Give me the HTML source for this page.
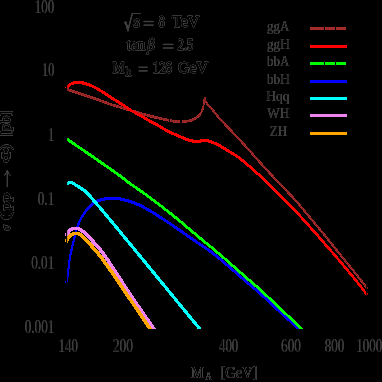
<!DOCTYPE html>
<html><head><meta charset="utf-8"><title>plot</title>
<style>
html,body{margin:0;padding:0;background:#000;width:382px;height:382px;overflow:hidden}
svg{display:block;position:absolute;left:0;top:0}
text{font-family:"Liberation Serif",serif;fill:#fff}
</style></head>
<body>
<svg width="382" height="382" viewBox="0 0 382 382">
<defs>
<filter id="tf" filterUnits="userSpaceOnUse" x="0" y="0" width="382" height="382" color-interpolation-filters="sRGB">
<feComponentTransfer><feFuncR type="table" tableValues="0.0000 0.0475 0.0900 0.1275 0.1600 0.1875 0.2100 0.2275 0.2400 0.2475 0.2500 0.2475 0.2400 0.2275 0.2100 0.1875 0.1600 0.1275 0.0900 0.0475 0.0000"/><feFuncG type="table" tableValues="0.0000 0.0475 0.0900 0.1275 0.1600 0.1875 0.2100 0.2275 0.2400 0.2475 0.2500 0.2475 0.2400 0.2275 0.2100 0.1875 0.1600 0.1275 0.0900 0.0475 0.0000"/><feFuncB type="table" tableValues="0.0000 0.0475 0.0900 0.1275 0.1600 0.1875 0.2100 0.2275 0.2400 0.2475 0.2500 0.2475 0.2400 0.2275 0.2100 0.1875 0.1600 0.1275 0.0900 0.0475 0.0000"/></feComponentTransfer>
</filter>
</defs>
<rect x="0" y="0" width="382" height="382" fill="#000"/>
<g filter="url(#tf)">
<rect x="0" y="0" width="382" height="382" fill="#000"/>
<text transform="translate(34.80,12.5) scale(0.7281,1)" font-size="17.8" font-weight="normal" stroke="#000" stroke-width="0.7">100</text>
<text transform="translate(42.10,76.2) scale(0.6819,1)" font-size="17.8" font-weight="normal" stroke="#000" stroke-width="0.7">10</text>
<text transform="translate(48.00,140.60000000000002) scale(0.7086,1)" font-size="17.8" font-weight="normal" stroke="#000" stroke-width="0.7">1</text>
<text transform="translate(37.70,204.8) scale(0.7466,1)" font-size="17.8" font-weight="normal" stroke="#000" stroke-width="0.7">0.1</text>
<text transform="translate(31.20,268.8) scale(0.7422,1)" font-size="17.8" font-weight="normal" stroke="#000" stroke-width="0.7">0.01</text>
<text transform="translate(24.70,332.8) scale(0.7397,1)" font-size="17.8" font-weight="normal" stroke="#000" stroke-width="0.7">0.001</text>
<text transform="translate(58.60,351.6) scale(0.7244,1)" font-size="17.8" font-weight="normal" stroke="#000" stroke-width="0.7">140</text>
<text transform="translate(112.80,351.6) scale(0.7617,1)" font-size="17.8" font-weight="normal" stroke="#000" stroke-width="0.7">200</text>
<text transform="translate(219.00,351.6) scale(0.7207,1)" font-size="17.8" font-weight="normal" stroke="#000" stroke-width="0.7">400</text>
<text transform="translate(281.00,351.6) scale(0.7468,1)" font-size="17.8" font-weight="normal" stroke="#000" stroke-width="0.7">600</text>
<text transform="translate(324.80,351.6) scale(0.7319,1)" font-size="17.8" font-weight="normal" stroke="#000" stroke-width="0.7">800</text>
<text transform="translate(356.30,351.6) scale(0.7261,1)" font-size="17.8" font-weight="normal" stroke="#000" stroke-width="0.7">1000</text>
<text transform="translate(267.00,30.9) scale(0.9579,1)" font-size="13.6" font-weight="normal" stroke="#000" stroke-width="0.4">ggA</text>
<text transform="translate(267.00,48.9) scale(0.9664,1)" font-size="13.6" font-weight="normal" stroke="#000" stroke-width="0.4">ggH</text>
<text transform="translate(267.00,65.9) scale(0.9579,1)" font-size="13.6" font-weight="normal" stroke="#000" stroke-width="0.4">bbA</text>
<text transform="translate(267.00,83.9) scale(0.9664,1)" font-size="13.6" font-weight="normal" stroke="#000" stroke-width="0.4">bbH</text>
<text transform="translate(266.20,100.9) scale(0.9994,1)" font-size="13.6" font-weight="normal" stroke="#000" stroke-width="0.4">Hqq</text>
<text transform="translate(267.00,117.9) scale(0.9987,1)" font-size="13.6" font-weight="normal" stroke="#000" stroke-width="0.4">WH</text>
<text transform="translate(269.70,135.9) scale(0.9616,1)" font-size="13.6" font-weight="normal" stroke="#000" stroke-width="0.4">ZH</text>
<text transform="translate(133.40,26.7) scale(0.9966,1)" font-size="16.5" font-weight="normal" stroke="#fff" stroke-width="0.7">s</text>
<text transform="translate(158.60,26.8) scale(0.7636,1)" font-size="16.5" font-weight="normal" stroke="#fff" stroke-width="0.7">8</text>
<text transform="translate(172.00,26.8) scale(0.9734,1)" font-size="16.5" font-weight="normal" stroke="#fff" stroke-width="0.7">TeV</text>
<text transform="translate(126.70,49.7) scale(0.9221,1)" font-size="16.5" font-weight="normal" stroke="#fff" stroke-width="0.7">tan</text>
<text transform="translate(147.20,49.7) scale(0.8964,1)" font-size="16.5" font-weight="normal" stroke="#fff" stroke-width="0.7"><tspan font-style="italic">β</tspan></text>
<text transform="translate(177.60,49.7) scale(0.7661,1)" font-size="16.5" font-weight="normal" stroke="#fff" stroke-width="0.7">2.5</text>
<text transform="translate(112.70,72.6) scale(0.7867,1)" font-size="16.5" font-weight="normal" stroke="#fff" stroke-width="0.7">M</text>
<text transform="translate(125.60,76.4) scale(1.0000,1)" font-size="11.5" font-weight="normal" stroke="#fff" stroke-width="0.7">h</text>
<text transform="translate(152.80,72.6) scale(0.7717,1)" font-size="16.5" font-weight="normal" stroke="#fff" stroke-width="0.7">126</text>
<text transform="translate(178.00,72.6) scale(0.9667,1)" font-size="16.5" font-weight="normal" stroke="#fff" stroke-width="0.7">GeV</text>
<text transform="translate(190.90,377.5) scale(0.8312,1)" font-size="17.5" font-weight="normal" stroke="#fff" stroke-width="0.15">M</text>
<text transform="translate(205.30,380.3) scale(0.7667,1)" font-size="12" font-weight="normal" stroke="#fff" stroke-width="0.15">A</text>
<text transform="translate(220.30,377.5) scale(0.8366,1)" font-size="17.5" font-weight="normal" stroke="#fff" stroke-width="0.15">[GeV]</text>
<path d="M124.0,23.0 L125.8,22.0 L128.0,30.0 L132.3,13.5 L140.5,13.5" fill="none" stroke="#999" stroke-width="1.1"/>
<path d="M125.6,22.2 L128.0,30.0" fill="none" stroke="#999" stroke-width="1.6"/>
<rect x="6.75" y="171.2" width="1.2" height="15.9" fill="#6c6c6c"/>
<path d="M4.0,175.4 Q6.7,174.0 7.35,170.4 Q8.0,174.0 10.7,175.4" fill="none" stroke="#8a8a8a" stroke-width="1.0"/>
<rect x="143.6" y="20.90" width="10.00" height="1.25" fill="#707070"/>
<rect x="143.6" y="24.50" width="10.00" height="1.25" fill="#707070"/>
<rect x="162.9" y="43.80" width="10.50" height="1.25" fill="#707070"/>
<rect x="162.9" y="47.40" width="10.50" height="1.25" fill="#707070"/>
<rect x="138.6" y="66.70" width="9.00" height="1.25" fill="#707070"/>
<rect x="138.6" y="70.30" width="9.00" height="1.25" fill="#707070"/>
<text transform="translate(10.0,230.57) rotate(-90) scale(0.6306,0.76)" font-size="16.7" font-weight="normal" stroke="#fff" stroke-width="0.85"><tspan font-style="italic">σ</tspan></text>
<text transform="translate(10.0,220.30) rotate(-90) scale(1.3794,0.76)" font-size="18.7" font-weight="normal" stroke="#fff" stroke-width="0.85">(</text>
<text transform="translate(10.0,210.80) rotate(-90) scale(1.0966,0.76)" font-size="16.7" font-weight="normal" stroke="#fff" stroke-width="0.85">pp</text>
<text transform="translate(10.0,162.70) rotate(-90) scale(1.2351,0.76)" font-size="16.7" font-weight="normal" stroke="#fff" stroke-width="0.85">Φ</text>
<text transform="translate(10.0,150.00) rotate(-90) scale(0.9303,0.76)" font-size="18.7" font-weight="normal" stroke="#fff" stroke-width="0.85">)</text>
<text transform="translate(10.0,136.20) rotate(-90) scale(0.8253,0.76)" font-size="18.7" font-weight="normal" stroke="#fff" stroke-width="0.85">[pb]</text>
</g>
<g shape-rendering="crispEdges">
<path d="M65.38,90.27 L65.88,90.44 L66.38,90.61 L66.88,90.77 L67.38,90.94 L67.88,91.11 L68.38,91.27 L68.88,91.44 L69.38,91.60 L69.88,91.77 L70.38,91.93 L70.88,92.10 L71.38,92.26 L71.88,92.43 L72.38,92.59 L72.88,92.76 L73.38,92.92 L73.88,93.09 L74.38,93.25 L74.88,93.41 L75.38,93.58 L75.88,93.74 L76.38,93.90 L76.88,94.07 L77.38,94.23 L77.88,94.39 L78.38,94.56 L78.88,94.72 L79.38,94.88 L79.88,95.04 L80.38,95.21 L80.88,95.37 L81.38,95.53 L81.88,95.70 L82.38,95.86 L82.88,96.03 L83.38,96.19 L83.88,96.35 L84.38,96.52 L84.88,96.68 L85.38,96.85 L85.88,97.01 L86.38,97.17 L86.88,97.34 L87.38,97.51 L87.88,97.67 L88.38,97.84 L88.88,98.00 L89.38,98.17 L89.87,98.34 L90.37,98.50 L90.87,98.67 L91.37,98.84 L91.87,99.01 L92.37,99.18 L92.87,99.35 L93.37,99.51 L93.87,99.68 L94.37,99.86 L94.86,100.03 L95.36,100.20 L95.86,100.37 L96.36,100.54 L96.86,100.72 L97.36,100.89 L97.86,101.06 L98.36,101.24 L98.86,101.41 L99.35,101.59 L99.85,101.76 L100.34,101.94 L100.84,102.12 L101.33,102.31 L101.83,102.49 L102.33,102.68 L102.83,102.87 L103.32,103.06 L103.82,103.25 L104.32,103.44 L104.82,103.63 L105.33,103.83 L105.83,104.02 L106.33,104.21 L106.84,104.40 L107.34,104.58 L107.85,104.77 L108.36,104.95 L108.86,105.13 L109.37,105.30 L109.87,105.47 L110.38,105.64 L110.88,105.81 L111.38,105.97 L111.89,106.14 L112.39,106.30 L112.89,106.46 L113.39,106.63 L113.89,106.78 L114.40,106.94 L114.90,107.10 L115.40,107.26 L115.90,107.41 L116.40,107.57 L116.91,107.72 L117.41,107.88 L117.91,108.03 L118.41,108.18 L118.91,108.33 L119.41,108.48 L119.92,108.63 L120.42,108.78 L120.92,108.93 L121.42,109.08 L121.92,109.22 L122.42,109.37 L122.92,109.52 L123.42,109.67 L123.92,109.81 L124.42,109.96 L124.92,110.10 L125.42,110.25 L125.92,110.40 L126.42,110.54 L126.92,110.69 L127.42,110.83 L127.92,110.98 L128.42,111.13 L128.92,111.27 L129.42,111.42 L129.92,111.57 L130.42,111.71 L130.92,111.86 L131.42,112.01 L131.91,112.16 L132.41,112.31 L132.91,112.46 L133.41,112.61 L133.91,112.76 L134.41,112.91 L134.91,113.06 L135.41,113.21 L135.91,113.36 L136.41,113.51 L136.91,113.66 L137.41,113.81 L137.91,113.96 L138.41,114.11 L138.91,114.26 L139.41,114.41 L139.92,114.56 L140.42,114.71 L140.92,114.86 L141.42,115.01 L141.92,115.16 L142.42,115.30 L142.92,115.45 L143.43,115.59 L143.93,115.74 L144.43,115.88 L144.93,116.03 L145.44,116.17 L145.94,116.31 L146.44,116.45 L146.94,116.59 L147.45,116.72 L147.95,116.86 L148.45,116.99 L148.96,117.13 L149.46,117.26 L149.96,117.39 L150.47,117.52 L150.97,117.65 L151.47,117.77 L151.98,117.90 L152.48,118.02 L152.98,118.14 L153.48,118.26 L153.99,118.38 L154.49,118.50 L154.99,118.62 L155.49,118.73 L155.99,118.85 L156.50,118.97 L157.00,119.08 L157.50,119.20 L158.00,119.31 L158.50,119.42 L159.00,119.54 L159.50,119.65 L160.00,119.76 L160.50,119.88 L161.00,119.99 L161.50,120.10 L162.00,120.22 L162.51,120.33 L163.01,120.44 L163.52,120.55 L164.02,120.66 L164.53,120.76 L165.04,120.86 L165.54,120.96 L166.03,121.05 L166.52,121.15 L167.02,121.26 L167.51,121.36 L168.01,121.47 L168.51,121.58 L169.01,121.69 L169.51,121.80 L170.02,121.91 L170.53,122.01 L171.04,122.12 L171.55,122.22 L172.06,122.31 L172.58,122.40 L173.10,122.48 L173.62,122.56 L174.15,122.62 L174.67,122.68 L175.20,122.72 L175.74,122.75 L176.27,122.77 L176.80,122.78 L177.30,122.78 L177.81,122.77 L178.31,122.77 L178.81,122.77 L179.32,122.76 L179.82,122.75 L180.32,122.75 L180.83,122.74 L181.33,122.73 L181.83,122.72 L182.34,122.70 L182.84,122.69 L183.34,122.68 L183.84,122.66 L184.35,122.64 L184.85,122.63 L185.35,122.61 L185.86,122.59 L186.38,122.56 L186.93,122.52 L187.47,122.46 L188.01,122.38 L188.54,122.29 L189.06,122.19 L189.58,122.08 L190.09,121.97 L190.63,121.84 L191.19,121.68 L191.74,121.49 L192.28,121.28 L192.81,121.06 L193.34,120.82 L193.87,120.56 L194.39,120.30 L194.90,120.03 L195.41,119.76 L195.94,119.46 L196.47,119.13 L197.01,118.76 L197.54,118.36 L198.06,117.94 L198.59,117.50 L199.10,117.04 L199.63,116.53 L200.15,115.97 L200.68,115.35 L201.20,114.63 L201.73,113.79 L202.24,112.79 L202.74,111.68 L203.25,110.51 L203.75,109.11 L204.25,107.02 L204.75,103.62 L205.25,100.53 L205.75,97.88 L205.85,97.39 L203.95,97.01 L203.85,97.52 L203.35,100.20 L202.85,103.32 L202.35,106.66 L201.85,108.53 L201.35,109.73 L200.86,110.82 L200.36,111.84 L199.87,112.68 L199.40,113.32 L198.92,113.87 L198.45,114.37 L197.97,114.82 L197.50,115.24 L197.01,115.64 L196.54,116.02 L196.06,116.37 L195.59,116.68 L195.13,116.97 L194.66,117.23 L194.19,117.48 L193.70,117.73 L193.21,117.98 L192.73,118.21 L192.26,118.42 L191.79,118.62 L191.32,118.80 L190.86,118.96 L190.41,119.10 L189.97,119.22 L189.51,119.32 L189.02,119.42 L188.54,119.51 L188.06,119.60 L187.59,119.67 L187.13,119.74 L186.67,119.78 L186.22,119.82 L185.74,119.84 L185.25,119.86 L184.75,119.87 L184.25,119.89 L183.76,119.91 L183.26,119.92 L182.76,119.94 L182.26,119.95 L181.77,119.96 L181.27,119.97 L180.77,119.98 L180.28,119.99 L179.78,120.00 L179.28,120.01 L178.79,120.01 L178.29,120.02 L177.79,120.02 L177.30,120.02 L176.80,120.02 L176.33,120.02 L175.86,120.00 L175.40,119.98 L174.93,119.94 L174.45,119.89 L173.98,119.84 L173.50,119.77 L173.02,119.70 L172.54,119.62 L172.05,119.53 L171.56,119.44 L171.07,119.34 L170.58,119.24 L170.09,119.14 L169.59,119.03 L169.09,118.92 L168.59,118.81 L168.09,118.70 L167.58,118.59 L167.08,118.48 L166.57,118.38 L166.06,118.28 L165.56,118.18 L165.07,118.09 L164.58,117.99 L164.08,117.88 L163.59,117.78 L163.09,117.67 L162.60,117.56 L162.10,117.45 L161.60,117.34 L161.10,117.22 L160.60,117.11 L160.10,117.00 L159.60,116.88 L159.10,116.77 L158.60,116.66 L158.10,116.54 L157.60,116.43 L157.10,116.32 L156.61,116.20 L156.11,116.09 L155.61,115.97 L155.11,115.86 L154.61,115.74 L154.12,115.62 L153.62,115.50 L153.12,115.38 L152.62,115.26 L152.13,115.14 L151.63,115.02 L151.13,114.89 L150.64,114.76 L150.14,114.64 L149.64,114.51 L149.15,114.38 L148.65,114.25 L148.15,114.11 L147.66,113.98 L147.16,113.84 L146.66,113.70 L146.16,113.57 L145.67,113.43 L145.17,113.28 L144.67,113.14 L144.17,113.00 L143.68,112.86 L143.18,112.71 L142.68,112.57 L142.18,112.42 L141.68,112.27 L141.18,112.13 L140.68,111.98 L140.19,111.83 L139.69,111.68 L139.19,111.53 L138.69,111.38 L138.19,111.23 L137.69,111.08 L137.19,110.93 L136.69,110.78 L136.19,110.63 L135.69,110.48 L135.19,110.33 L134.69,110.18 L134.19,110.03 L133.69,109.88 L133.19,109.73 L132.69,109.58 L132.18,109.43 L131.68,109.28 L131.18,109.13 L130.68,108.98 L130.18,108.83 L129.68,108.69 L129.18,108.54 L128.68,108.39 L128.18,108.25 L127.68,108.10 L127.18,107.95 L126.68,107.81 L126.18,107.66 L125.68,107.52 L125.18,107.37 L124.68,107.22 L124.18,107.08 L123.68,106.93 L123.18,106.78 L122.68,106.64 L122.18,106.49 L121.68,106.34 L121.18,106.20 L120.68,106.05 L120.19,105.90 L119.69,105.75 L119.19,105.60 L118.69,105.45 L118.19,105.30 L117.69,105.15 L117.20,104.99 L116.70,104.84 L116.20,104.69 L115.70,104.53 L115.20,104.38 L114.71,104.22 L114.21,104.06 L113.71,103.91 L113.21,103.75 L112.71,103.59 L112.22,103.42 L111.72,103.26 L111.22,103.10 L110.73,102.93 L110.23,102.76 L109.74,102.60 L109.24,102.43 L108.75,102.25 L108.26,102.08 L107.76,101.90 L107.27,101.71 L106.77,101.53 L106.27,101.34 L105.78,101.15 L105.28,100.96 L104.78,100.77 L104.28,100.57 L103.77,100.38 L103.27,100.19 L102.77,100.00 L102.27,99.81 L101.76,99.62 L101.26,99.43 L100.75,99.25 L100.25,99.07 L99.74,98.89 L99.24,98.71 L98.74,98.54 L98.24,98.36 L97.74,98.19 L97.24,98.01 L96.74,97.84 L96.24,97.67 L95.74,97.49 L95.23,97.32 L94.73,97.15 L94.23,96.98 L93.73,96.81 L93.23,96.64 L92.73,96.47 L92.23,96.30 L91.73,96.13 L91.23,95.96 L90.73,95.79 L90.22,95.63 L89.72,95.46 L89.22,95.29 L88.72,95.13 L88.22,94.96 L87.72,94.79 L87.22,94.63 L86.72,94.46 L86.22,94.30 L85.72,94.13 L85.22,93.97 L84.72,93.80 L84.22,93.64 L83.72,93.47 L83.22,93.31 L82.72,93.15 L82.22,92.98 L81.72,92.82 L81.22,92.66 L80.72,92.49 L80.22,92.33 L79.72,92.17 L79.22,92.00 L78.72,91.84 L78.22,91.68 L77.72,91.51 L77.22,91.35 L76.72,91.19 L76.22,91.02 L75.72,90.86 L75.22,90.70 L74.72,90.53 L74.22,90.37 L73.72,90.21 L73.22,90.04 L72.72,89.88 L72.22,89.72 L71.72,89.55 L71.22,89.39 L70.72,89.22 L70.22,89.06 L69.72,88.89 L69.22,88.73 L68.72,88.56 L68.22,88.39 L67.72,88.23 L67.22,88.06 L66.72,87.89 L66.22,87.73Z" fill="#a52a2a"/>
<path d="M203.95,97.34 L204.45,100.82 L204.96,102.40 L205.48,103.36 L206.00,104.13 L206.52,104.83 L207.04,105.45 L207.55,106.02 L208.06,106.54 L208.56,107.04 L209.06,107.53 L209.54,108.02 L210.03,108.55 L210.52,109.13 L211.02,109.73 L211.51,110.34 L212.01,110.96 L212.51,111.60 L213.01,112.23 L213.51,112.87 L214.01,113.50 L214.51,114.13 L215.02,114.76 L215.52,115.37 L216.02,115.98 L216.52,116.58 L217.02,117.18 L217.52,117.78 L218.02,118.37 L218.53,118.96 L219.03,119.55 L219.53,120.13 L220.03,120.71 L220.54,121.27 L221.04,121.84 L221.54,122.39 L222.04,122.94 L222.55,123.48 L223.05,124.01 L223.55,124.54 L224.05,125.07 L224.55,125.59 L225.05,126.11 L225.56,126.63 L226.06,127.15 L226.56,127.66 L227.06,128.17 L227.56,128.68 L228.06,129.20 L228.56,129.71 L229.05,130.22 L229.55,130.74 L230.05,131.26 L230.55,131.78 L231.05,132.31 L231.55,132.84 L232.05,133.37 L232.55,133.91 L233.04,134.44 L233.54,134.98 L234.04,135.52 L234.54,136.06 L235.04,136.60 L235.54,137.14 L236.04,137.68 L236.54,138.22 L237.04,138.76 L237.54,139.29 L238.05,139.83 L238.55,140.37 L239.05,140.91 L239.55,141.44 L240.05,141.98 L240.55,142.51 L241.05,143.05 L241.54,143.59 L242.04,144.12 L242.54,144.66 L243.04,145.20 L243.54,145.74 L244.04,146.28 L244.54,146.82 L245.04,147.37 L245.54,147.91 L246.04,148.46 L246.54,149.01 L247.04,149.56 L247.54,150.11 L248.03,150.66 L248.53,151.22 L249.03,151.79 L249.53,152.35 L250.03,152.92 L250.53,153.49 L251.03,154.06 L251.53,154.64 L252.03,155.21 L252.53,155.78 L253.03,156.36 L253.53,156.93 L254.03,157.50 L254.53,158.08 L255.03,158.64 L255.53,159.21 L256.04,159.77 L256.54,160.33 L257.04,160.89 L257.54,161.45 L258.04,162.00 L258.54,162.56 L259.04,163.11 L259.54,163.67 L260.04,164.22 L260.54,164.78 L261.04,165.33 L261.54,165.88 L262.04,166.43 L262.54,166.98 L263.04,167.53 L263.54,168.08 L264.04,168.63 L264.54,169.18 L265.04,169.73 L265.54,170.28 L266.04,170.82 L266.54,171.37 L267.04,171.91 L267.54,172.46 L268.04,173.00 L268.54,173.55 L269.04,174.09 L269.54,174.63 L270.04,175.17 L270.54,175.72 L271.04,176.26 L271.54,176.80 L272.04,177.34 L272.54,177.88 L273.04,178.41 L273.54,178.95 L274.05,179.49 L274.55,180.03 L275.05,180.56 L275.55,181.10 L276.05,181.64 L276.55,182.17 L277.05,182.71 L277.55,183.24 L278.05,183.77 L278.55,184.30 L279.05,184.83 L279.55,185.35 L280.05,185.87 L280.55,186.39 L281.06,186.91 L281.56,187.43 L282.06,187.94 L282.56,188.46 L283.06,188.97 L283.56,189.48 L284.06,190.00 L284.56,190.51 L285.06,191.02 L285.56,191.53 L286.06,192.05 L286.56,192.56 L287.05,193.07 L287.55,193.59 L288.05,194.11 L288.55,194.63 L289.05,195.15 L289.55,195.67 L290.05,196.19 L290.55,196.72 L291.05,197.25 L291.54,197.79 L292.04,198.32 L292.54,198.86 L293.04,199.41 L293.54,199.96 L294.04,200.51 L294.53,201.06 L295.03,201.63 L295.53,202.19 L296.03,202.76 L296.53,203.34 L297.03,203.92 L297.53,204.50 L298.02,205.09 L298.52,205.67 L299.02,206.26 L299.52,206.86 L300.02,207.45 L300.52,208.05 L301.02,208.65 L301.52,209.25 L302.02,209.84 L302.52,210.44 L303.02,211.04 L303.52,211.64 L304.02,212.24 L304.52,212.84 L305.02,213.44 L305.52,214.03 L306.02,214.63 L306.52,215.22 L307.02,215.82 L307.52,216.41 L308.02,217.01 L308.52,217.60 L309.02,218.20 L309.52,218.80 L310.02,219.39 L310.52,219.99 L311.02,220.59 L311.52,221.18 L312.02,221.78 L312.52,222.38 L313.02,222.98 L313.52,223.58 L314.02,224.18 L314.52,224.77 L315.02,225.37 L315.52,225.98 L316.02,226.58 L316.52,227.18 L317.02,227.78 L317.52,228.38 L318.02,228.98 L318.52,229.59 L319.02,230.19 L319.52,230.80 L320.02,231.40 L320.52,232.01 L321.02,232.61 L321.52,233.22 L322.02,233.83 L322.52,234.44 L323.02,235.05 L323.52,235.66 L324.02,236.27 L324.52,236.88 L325.02,237.49 L325.52,238.11 L326.02,238.72 L326.52,239.33 L327.01,239.95 L327.51,240.57 L328.01,241.19 L328.51,241.81 L329.01,242.44 L329.51,243.06 L330.01,243.69 L330.51,244.32 L331.01,244.95 L331.51,245.58 L332.01,246.20 L332.51,246.83 L333.01,247.46 L333.51,248.09 L334.01,248.72 L334.51,249.34 L335.01,249.96 L335.51,250.59 L336.01,251.21 L336.51,251.83 L337.01,252.44 L337.52,253.06 L338.02,253.68 L338.52,254.30 L339.02,254.91 L339.52,255.53 L340.02,256.15 L340.52,256.76 L341.02,257.38 L341.52,257.99 L342.02,258.60 L342.52,259.22 L343.02,259.83 L343.52,260.45 L344.02,261.06 L344.52,261.67 L345.02,262.29 L345.52,262.90 L346.02,263.51 L346.52,264.13 L347.02,264.74 L347.52,265.36 L348.02,265.97 L348.52,266.58 L349.02,267.19 L349.52,267.80 L350.02,268.41 L350.52,269.02 L351.02,269.63 L351.52,270.24 L352.02,270.85 L352.52,271.46 L353.02,272.07 L353.52,272.69 L354.01,273.30 L354.51,273.92 L355.01,274.54 L355.51,275.16 L356.01,275.78 L356.51,276.41 L357.01,277.04 L357.51,277.67 L358.01,278.31 L358.51,278.94 L359.01,279.58 L359.51,280.22 L360.01,280.86 L360.51,281.50 L361.01,282.14 L361.51,282.78 L362.01,283.42 L362.51,284.07 L363.01,284.71 L363.51,285.34 L364.01,285.98 L364.51,286.62 L365.01,287.26 L365.51,287.89 L366.01,288.52 L366.51,289.15 L366.71,289.40 L368.49,288.00 L368.29,287.74 L367.79,287.11 L367.29,286.48 L366.79,285.85 L366.29,285.22 L365.79,284.58 L365.29,283.95 L364.79,283.31 L364.29,282.67 L363.79,282.03 L363.29,281.39 L362.79,280.75 L362.29,280.11 L361.79,279.47 L361.29,278.83 L360.79,278.19 L360.29,277.55 L359.79,276.91 L359.29,276.27 L358.79,275.64 L358.29,275.00 L357.79,274.37 L357.29,273.74 L356.79,273.11 L356.29,272.49 L355.79,271.87 L355.28,271.25 L354.78,270.63 L354.28,270.02 L353.78,269.41 L353.28,268.79 L352.78,268.18 L352.28,267.57 L351.78,266.96 L351.28,266.35 L350.78,265.74 L350.28,265.14 L349.78,264.53 L349.28,263.91 L348.78,263.30 L348.28,262.69 L347.78,262.07 L347.28,261.46 L346.78,260.85 L346.28,260.23 L345.78,259.62 L345.28,259.01 L344.78,258.39 L344.28,257.78 L343.78,257.17 L343.28,256.55 L342.78,255.94 L342.28,255.32 L341.78,254.71 L341.28,254.09 L340.78,253.48 L340.28,252.86 L339.78,252.25 L339.28,251.63 L338.79,251.01 L338.29,250.39 L337.79,249.78 L337.29,249.16 L336.79,248.54 L336.29,247.92 L335.79,247.30 L335.29,246.67 L334.79,246.05 L334.29,245.42 L333.79,244.79 L333.29,244.16 L332.79,243.53 L332.29,242.91 L331.79,242.28 L331.29,241.65 L330.79,241.02 L330.29,240.39 L329.79,239.77 L329.29,239.14 L328.79,238.52 L328.28,237.90 L327.78,237.28 L327.28,236.67 L326.78,236.05 L326.28,235.44 L325.78,234.82 L325.28,234.21 L324.78,233.60 L324.28,232.99 L323.78,232.38 L323.28,231.77 L322.78,231.16 L322.28,230.56 L321.78,229.95 L321.28,229.34 L320.78,228.74 L320.28,228.13 L319.78,227.53 L319.28,226.92 L318.78,226.32 L318.28,225.72 L317.78,225.11 L317.28,224.51 L316.78,223.91 L316.28,223.31 L315.78,222.71 L315.28,222.11 L314.78,221.51 L314.28,220.91 L313.78,220.31 L313.28,219.71 L312.78,219.12 L312.28,218.52 L311.78,217.92 L311.28,217.32 L310.78,216.73 L310.28,216.13 L309.78,215.53 L309.28,214.94 L308.78,214.34 L308.28,213.75 L307.78,213.15 L307.28,212.56 L306.78,211.96 L306.28,211.37 L305.78,210.77 L305.28,210.18 L304.78,209.58 L304.28,208.98 L303.78,208.38 L303.28,207.78 L302.78,207.18 L302.28,206.58 L301.78,205.98 L301.28,205.38 L300.78,204.79 L300.28,204.19 L299.78,203.60 L299.27,203.01 L298.77,202.42 L298.27,201.84 L297.77,201.25 L297.27,200.67 L296.77,200.10 L296.27,199.53 L295.76,198.96 L295.26,198.40 L294.76,197.84 L294.26,197.29 L293.76,196.74 L293.26,196.20 L292.75,195.66 L292.25,195.12 L291.75,194.59 L291.25,194.06 L290.75,193.53 L290.25,193.00 L289.75,192.48 L289.25,191.96 L288.75,191.44 L288.24,190.92 L287.74,190.40 L287.24,189.89 L286.74,189.38 L286.24,188.86 L285.74,188.35 L285.24,187.84 L284.74,187.33 L284.24,186.81 L283.74,186.30 L283.24,185.79 L282.74,185.27 L282.25,184.76 L281.75,184.24 L281.25,183.73 L280.75,183.21 L280.25,182.69 L279.75,182.16 L279.25,181.64 L278.75,181.11 L278.25,180.57 L277.75,180.04 L277.25,179.51 L276.75,178.97 L276.25,178.43 L275.75,177.90 L275.26,177.36 L274.76,176.82 L274.26,176.29 L273.76,175.75 L273.26,175.21 L272.76,174.67 L272.26,174.13 L271.76,173.59 L271.26,173.05 L270.76,172.51 L270.26,171.97 L269.76,171.42 L269.26,170.88 L268.76,170.34 L268.26,169.79 L267.76,169.25 L267.26,168.70 L266.76,168.16 L266.26,167.61 L265.76,167.06 L265.26,166.52 L264.76,165.97 L264.26,165.42 L263.76,164.87 L263.26,164.32 L262.76,163.77 L262.26,163.22 L261.76,162.66 L261.26,162.11 L260.76,161.56 L260.26,161.01 L259.76,160.45 L259.26,159.90 L258.76,159.34 L258.26,158.78 L257.76,158.23 L257.27,157.67 L256.77,157.11 L256.27,156.55 L255.77,155.98 L255.27,155.41 L254.77,154.84 L254.27,154.27 L253.77,153.69 L253.27,153.12 L252.77,152.55 L252.27,151.97 L251.77,151.40 L251.27,150.83 L250.77,150.26 L250.27,149.69 L249.77,149.12 L249.26,148.56 L248.76,148.00 L248.26,147.44 L247.76,146.89 L247.26,146.34 L246.76,145.79 L246.26,145.25 L245.76,144.70 L245.26,144.16 L244.76,143.62 L244.26,143.08 L243.76,142.54 L243.26,142.00 L242.75,141.46 L242.25,140.92 L241.75,140.38 L241.25,139.85 L240.75,139.31 L240.25,138.78 L239.75,138.24 L239.26,137.70 L238.76,137.17 L238.26,136.63 L237.76,136.09 L237.26,135.55 L236.76,135.01 L236.26,134.47 L235.76,133.93 L235.26,133.39 L234.76,132.85 L234.25,132.31 L233.75,131.78 L233.25,131.24 L232.75,130.70 L232.25,130.17 L231.75,129.64 L231.25,129.11 L230.75,128.59 L230.24,128.07 L229.74,127.56 L229.24,127.04 L228.74,126.53 L228.24,126.01 L227.74,125.50 L227.24,124.99 L226.75,124.48 L226.25,123.96 L225.75,123.45 L225.25,122.93 L224.75,122.40 L224.25,121.88 L223.76,121.35 L223.26,120.81 L222.76,120.27 L222.26,119.73 L221.77,119.17 L221.27,118.61 L220.77,118.04 L220.27,117.47 L219.78,116.89 L219.28,116.30 L218.78,115.71 L218.28,115.11 L217.78,114.51 L217.28,113.91 L216.78,113.31 L216.29,112.71 L215.79,112.09 L215.29,111.46 L214.79,110.83 L214.29,110.19 L213.79,109.56 L213.29,108.92 L212.78,108.29 L212.28,107.67 L211.77,107.05 L211.26,106.45 L210.74,105.89 L210.24,105.37 L209.74,104.87 L209.25,104.39 L208.76,103.89 L208.28,103.37 L207.80,102.79 L207.32,102.14 L206.84,101.52 L206.35,100.42 L205.85,97.06Z" fill="#a52a2a"/>
<path d="M65.80,89.00 L66.30,89.17 L66.80,89.33 L67.30,89.50 L67.80,89.67 L68.30,89.83 L68.80,90.00 L69.30,90.16 L69.80,90.33 L70.30,90.50 L70.80,90.66 L71.30,90.83 L71.80,90.99 L72.30,91.15 L72.80,91.32 L73.30,91.48 L73.80,91.65 L74.30,91.81 L74.80,91.97 L75.30,92.14 L75.80,92.30 L76.30,92.46 L76.80,92.63 L77.30,92.79 L77.80,92.95 L78.30,93.12 L78.80,93.28 L79.30,93.44 L79.80,93.61 L80.30,93.77 L80.80,93.93 L81.30,94.10 L81.80,94.26 L82.30,94.42 L82.80,94.59 L83.30,94.75 L83.80,94.91 L84.30,95.08 L84.80,95.24 L85.30,95.41 L85.80,95.57 L86.30,95.74 L86.80,95.90 L87.30,96.07 L87.80,96.23 L88.30,96.40 L88.80,96.56 L89.30,96.73 L89.80,96.90 L90.30,97.07 L90.80,97.23 L91.30,97.40 L91.80,97.57 L92.30,97.74 L92.80,97.91 L93.30,98.08 L93.80,98.25 L94.30,98.42 L94.80,98.59 L95.30,98.76 L95.80,98.93 L96.30,99.10 L96.80,99.28 L97.30,99.45 L97.80,99.63 L98.30,99.80 L98.80,99.98 L99.30,100.15 L99.80,100.33 L100.30,100.51 L100.80,100.69 L101.30,100.87 L101.80,101.06 L102.30,101.25 L102.80,101.43 L103.30,101.63 L103.80,101.82 L104.30,102.01 L104.80,102.20 L105.30,102.39 L105.80,102.58 L106.30,102.77 L106.80,102.96 L107.30,103.15 L107.80,103.33 L108.30,103.51 L108.80,103.69 L109.30,103.86 L109.80,104.03 L110.30,104.20 L110.80,104.37 L111.30,104.53 L111.80,104.70 L112.30,104.86 L112.80,105.02 L113.30,105.18 L113.80,105.34 L114.30,105.50 L114.80,105.66 L115.30,105.82 L115.80,105.97 L116.30,106.13 L116.80,106.28 L117.30,106.43 L117.80,106.59 L118.30,106.74 L118.80,106.89 L119.30,107.04 L119.80,107.19 L120.30,107.34 L120.80,107.49 L121.30,107.64 L121.80,107.78 L122.30,107.93 L122.80,108.08 L123.30,108.22 L123.80,108.37 L124.30,108.52 L124.80,108.66 L125.30,108.81 L125.80,108.96 L126.30,109.10 L126.80,109.25 L127.30,109.39 L127.80,109.54 L128.30,109.69 L128.80,109.83 L129.30,109.98 L129.80,110.13 L130.30,110.27 L130.80,110.42 L131.30,110.57 L131.80,110.72 L132.30,110.87 L132.80,111.02 L133.30,111.17 L133.80,111.32 L134.30,111.47 L134.80,111.62 L135.30,111.77 L135.80,111.92 L136.30,112.07 L136.80,112.22 L137.30,112.37 L137.80,112.52 L138.30,112.67 L138.80,112.82 L139.30,112.97 L139.80,113.12 L140.30,113.27 L140.80,113.42 L141.30,113.57 L141.80,113.71 L142.30,113.86 L142.80,114.01 L143.30,114.15 L143.80,114.30 L144.30,114.44 L144.80,114.58 L145.30,114.73 L145.80,114.87 L146.30,115.01 L146.80,115.14 L147.30,115.28 L147.80,115.42 L148.30,115.55 L148.80,115.69 L149.30,115.82 L149.80,115.95 L150.30,116.08 L150.80,116.20 L151.30,116.33 L151.80,116.46 L152.30,116.58 L152.80,116.70 L153.30,116.82 L153.80,116.94 L154.30,117.06 L154.80,117.18 L155.30,117.29 L155.80,117.41 L156.30,117.53 L156.80,117.64 L157.30,117.76 L157.80,117.87 L158.30,117.98 L158.80,118.10 L159.30,118.21 L159.80,118.32 L160.30,118.44 L160.80,118.55 L161.30,118.66 L161.80,118.78 L162.30,118.89 L162.80,119.00 L163.30,119.11 L163.80,119.22 L164.30,119.32 L164.80,119.42 L165.30,119.52 L165.80,119.62 L166.30,119.72 L166.80,119.82 L167.30,119.92 L167.80,120.03 L168.30,120.14 L168.80,120.25 L169.30,120.36 L169.80,120.47 L170.30,120.58 L170.80,120.68 L171.30,120.78 L171.80,120.88 L172.30,120.97 L172.80,121.05 L173.30,121.13 L173.80,121.20 L174.30,121.26 L174.80,121.31 L175.30,121.35 L175.80,121.38 L176.30,121.40 L176.80,121.40 L177.30,121.40 L177.80,121.40 L178.30,121.39 L178.80,121.39 L179.30,121.38 L179.80,121.38 L180.30,121.37 L180.80,121.36 L181.30,121.35 L181.80,121.34 L182.30,121.33 L182.80,121.31 L183.30,121.30 L183.80,121.28 L184.30,121.27 L184.80,121.25 L185.30,121.23 L185.80,121.21 L186.30,121.19 L186.80,121.15 L187.30,121.10 L187.80,121.03 L188.30,120.94 L188.80,120.85 L189.30,120.75 L189.80,120.64 L190.30,120.53 L190.80,120.39 L191.30,120.23 L191.80,120.04 L192.30,119.84 L192.80,119.62 L193.30,119.39 L193.80,119.14 L194.30,118.88 L194.80,118.62 L195.30,118.34 L195.80,118.05 L196.30,117.72 L196.80,117.37 L197.30,116.98 L197.80,116.57 L198.30,116.14 L198.80,115.68 L199.30,115.17 L199.80,114.61 L200.30,113.98 L200.80,113.24 L201.30,112.31 L201.80,111.25 L202.30,110.12 L202.80,108.82 L203.30,106.84 L203.80,103.47 L204.30,100.36 L204.80,97.70 L204.90,97.20 L205.40,100.62 L205.90,101.96 L206.40,102.75 L206.90,103.46 L207.40,104.10 L207.90,104.67 L208.40,105.20 L208.90,105.71 L209.40,106.20 L209.90,106.71 L210.40,107.23 L210.90,107.80 L211.40,108.40 L211.90,109.01 L212.40,109.63 L212.90,110.26 L213.40,110.89 L213.90,111.53 L214.40,112.16 L214.90,112.79 L215.40,113.42 L215.90,114.04 L216.40,114.64 L216.90,115.24 L217.40,115.85 L217.90,116.44 L218.40,117.04 L218.90,117.63 L219.40,118.22 L219.90,118.80 L220.40,119.37 L220.90,119.94 L221.40,120.50 L221.90,121.05 L222.40,121.60 L222.90,122.14 L223.40,122.68 L223.90,123.21 L224.40,123.74 L224.90,124.26 L225.40,124.78 L225.90,125.30 L226.40,125.81 L226.90,126.32 L227.40,126.84 L227.90,127.35 L228.40,127.86 L228.90,128.38 L229.40,128.89 L229.90,129.41 L230.40,129.93 L230.90,130.45 L231.40,130.98 L231.90,131.51 L232.40,132.04 L232.90,132.57 L233.40,133.11 L233.90,133.65 L234.40,134.19 L234.90,134.73 L235.40,135.26 L235.90,135.80 L236.40,136.34 L236.90,136.88 L237.40,137.42 L237.90,137.96 L238.40,138.50 L238.90,139.04 L239.40,139.57 L239.90,140.11 L240.40,140.65 L240.90,141.18 L241.40,141.72 L241.90,142.25 L242.40,142.79 L242.90,143.33 L243.40,143.87 L243.90,144.41 L244.40,144.95 L244.90,145.49 L245.40,146.03 L245.90,146.58 L246.40,147.13 L246.90,147.68 L247.40,148.23 L247.90,148.78 L248.40,149.33 L248.90,149.89 L249.40,150.46 L249.90,151.02 L250.40,151.59 L250.90,152.16 L251.40,152.73 L251.90,153.30 L252.40,153.88 L252.90,154.45 L253.40,155.03 L253.90,155.60 L254.40,156.17 L254.90,156.74 L255.40,157.31 L255.90,157.88 L256.40,158.44 L256.90,159.00 L257.40,159.56 L257.90,160.11 L258.40,160.67 L258.90,161.23 L259.40,161.78 L259.90,162.34 L260.40,162.89 L260.90,163.44 L261.40,164.00 L261.90,164.55 L262.40,165.10 L262.90,165.65 L263.40,166.20 L263.90,166.75 L264.40,167.30 L264.90,167.85 L265.40,168.40 L265.90,168.94 L266.40,169.49 L266.90,170.04 L267.40,170.58 L267.90,171.13 L268.40,171.67 L268.90,172.21 L269.40,172.76 L269.90,173.30 L270.40,173.84 L270.90,174.38 L271.40,174.92 L271.90,175.46 L272.40,176.00 L272.90,176.54 L273.40,177.08 L273.90,177.62 L274.40,178.16 L274.90,178.69 L275.40,179.23 L275.90,179.77 L276.40,180.30 L276.90,180.84 L277.40,181.37 L277.90,181.91 L278.40,182.44 L278.90,182.97 L279.40,183.49 L279.90,184.02 L280.40,184.54 L280.90,185.06 L281.40,185.58 L281.90,186.09 L282.40,186.61 L282.90,187.12 L283.40,187.64 L283.90,188.15 L284.40,188.66 L284.90,189.17 L285.40,189.69 L285.90,190.20 L286.40,190.71 L286.90,191.23 L287.40,191.74 L287.90,192.26 L288.40,192.77 L288.90,193.29 L289.40,193.81 L289.90,194.34 L290.40,194.86 L290.90,195.39 L291.40,195.92 L291.90,196.45 L292.40,196.99 L292.90,197.53 L293.40,198.08 L293.90,198.63 L294.40,199.18 L294.90,199.73 L295.40,200.30 L295.90,200.86 L296.40,201.43 L296.90,202.01 L297.40,202.59 L297.90,203.17 L298.40,203.75 L298.90,204.34 L299.40,204.93 L299.90,205.53 L300.40,206.12 L300.90,206.72 L301.40,207.31 L301.90,207.91 L302.40,208.51 L302.90,209.11 L303.40,209.71 L303.90,210.31 L304.40,210.91 L304.90,211.51 L305.40,212.10 L305.90,212.70 L306.40,213.29 L306.90,213.89 L307.40,214.48 L307.90,215.08 L308.40,215.68 L308.90,216.27 L309.40,216.87 L309.90,217.46 L310.40,218.06 L310.90,218.66 L311.40,219.25 L311.90,219.85 L312.40,220.45 L312.90,221.05 L313.40,221.64 L313.90,222.24 L314.40,222.84 L314.90,223.44 L315.40,224.04 L315.90,224.64 L316.40,225.24 L316.90,225.84 L317.40,226.45 L317.90,227.05 L318.40,227.65 L318.90,228.26 L319.40,228.86 L319.90,229.46 L320.40,230.07 L320.90,230.68 L321.40,231.28 L321.90,231.89 L322.40,232.50 L322.90,233.11 L323.40,233.71 L323.90,234.32 L324.40,234.94 L324.90,235.55 L325.40,236.16 L325.90,236.77 L326.40,237.39 L326.90,238.00 L327.40,238.62 L327.90,239.23 L328.40,239.86 L328.90,240.48 L329.40,241.10 L329.90,241.73 L330.40,242.36 L330.90,242.98 L331.40,243.61 L331.90,244.24 L332.40,244.87 L332.90,245.50 L333.40,246.13 L333.90,246.75 L334.40,247.38 L334.90,248.01 L335.40,248.63 L335.90,249.25 L336.40,249.87 L336.90,250.49 L337.40,251.11 L337.90,251.73 L338.40,252.35 L338.90,252.96 L339.40,253.58 L339.90,254.20 L340.40,254.81 L340.90,255.43 L341.40,256.04 L341.90,256.66 L342.40,257.27 L342.90,257.89 L343.40,258.50 L343.90,259.11 L344.40,259.73 L344.90,260.34 L345.40,260.95 L345.90,261.57 L346.40,262.18 L346.90,262.79 L347.40,263.41 L347.90,264.02 L348.40,264.64 L348.90,265.25 L349.40,265.86 L349.90,266.47 L350.40,267.08 L350.90,267.69 L351.40,268.30 L351.90,268.91 L352.40,269.52 L352.90,270.13 L353.40,270.74 L353.90,271.35 L354.40,271.97 L354.90,272.59 L355.40,273.20 L355.90,273.83 L356.40,274.45 L356.90,275.08 L357.40,275.71 L357.90,276.34 L358.40,276.97 L358.90,277.61 L359.40,278.25 L359.90,278.88 L360.40,279.52 L360.90,280.16 L361.40,280.81 L361.90,281.45 L362.40,282.09 L362.90,282.73 L363.40,283.37 L363.90,284.01 L364.40,284.65 L364.90,285.28 L365.40,285.92 L365.90,286.55 L366.40,287.19 L366.90,287.82 L367.40,288.45 L367.60,288.70" fill="none" stroke="#000" stroke-opacity="0.4" stroke-width="1.1" stroke-dasharray="1 1.9" shape-rendering="auto"/>
<rect x="168.8" y="115" width="1.50" height="9" fill="#000"/>
<rect x="179.9" y="115" width="1.60" height="9" fill="#000"/>
<path d="M66.77,89.18 L67.26,88.69 L67.75,88.24 L68.23,87.82 L68.72,87.41 L69.21,86.99 L69.70,86.59 L70.17,86.24 L70.62,85.94 L71.06,85.70 L71.50,85.48 L71.97,85.26 L72.44,85.05 L72.89,84.86 L73.33,84.71 L73.75,84.59 L74.16,84.49 L74.61,84.41 L75.09,84.32 L75.55,84.24 L76.00,84.18 L76.43,84.13 L76.85,84.11 L77.29,84.11 L77.76,84.12 L78.24,84.14 L78.72,84.16 L79.20,84.19 L79.69,84.22 L80.18,84.25 L80.67,84.29 L81.14,84.33 L81.58,84.38 L82.04,84.44 L82.50,84.52 L82.96,84.61 L83.44,84.72 L83.91,84.83 L84.40,84.95 L84.89,85.08 L85.38,85.22 L85.87,85.35 L86.34,85.48 L86.81,85.62 L87.29,85.78 L87.76,85.94 L88.24,86.12 L88.72,86.30 L89.20,86.50 L89.69,86.70 L90.18,86.91 L90.67,87.12 L91.16,87.35 L91.65,87.57 L92.14,87.81 L92.64,88.04 L93.14,88.28 L93.63,88.51 L94.11,88.75 L94.59,88.99 L95.08,89.25 L95.56,89.52 L96.05,89.79 L96.54,90.07 L97.04,90.36 L97.53,90.65 L98.03,90.95 L98.52,91.25 L99.02,91.56 L99.52,91.87 L100.02,92.18 L100.52,92.49 L101.02,92.80 L101.52,93.11 L102.01,93.41 L102.50,93.72 L103.00,94.04 L103.50,94.36 L103.99,94.68 L104.49,95.01 L104.99,95.34 L105.49,95.66 L105.99,96.00 L106.49,96.33 L106.99,96.66 L107.50,96.99 L108.00,97.31 L108.50,97.64 L109.01,97.96 L109.51,98.28 L110.01,98.59 L110.51,98.91 L111.01,99.23 L111.51,99.54 L112.01,99.86 L112.51,100.17 L113.02,100.48 L113.52,100.80 L114.02,101.11 L114.52,101.42 L115.02,101.73 L115.52,102.04 L116.02,102.36 L116.51,102.67 L117.01,102.98 L117.51,103.29 L118.01,103.60 L118.51,103.92 L119.01,104.23 L119.51,104.55 L120.01,104.86 L120.50,105.18 L121.00,105.50 L121.50,105.82 L122.00,106.14 L122.49,106.46 L122.99,106.78 L123.48,107.11 L123.98,107.44 L124.47,107.78 L124.97,108.12 L125.47,108.47 L125.97,108.81 L126.48,109.15 L126.98,109.50 L127.48,109.84 L127.99,110.18 L128.49,110.52 L129.00,110.85 L129.51,111.18 L130.02,111.50 L130.54,111.82 L131.05,112.13 L131.56,112.43 L132.07,112.72 L132.58,113.00 L133.09,113.27 L133.60,113.54 L134.10,113.81 L134.60,114.07 L135.11,114.33 L135.61,114.59 L136.10,114.85 L136.60,115.10 L137.09,115.36 L137.59,115.62 L138.08,115.88 L138.57,116.15 L139.06,116.42 L139.55,116.70 L140.05,116.98 L140.54,117.27 L141.04,117.56 L141.53,117.85 L142.03,118.15 L142.53,118.45 L143.03,118.76 L143.52,119.06 L144.02,119.37 L144.52,119.67 L145.03,119.98 L145.53,120.29 L146.03,120.59 L146.53,120.90 L147.04,121.20 L147.54,121.50 L148.05,121.80 L148.55,122.10 L149.06,122.39 L149.57,122.68 L150.07,122.96 L150.58,123.24 L151.09,123.52 L151.59,123.79 L152.09,124.06 L152.60,124.32 L153.10,124.59 L153.60,124.85 L154.10,125.11 L154.60,125.37 L155.10,125.63 L155.60,125.89 L156.09,126.15 L156.59,126.41 L157.08,126.68 L157.58,126.94 L158.07,127.21 L158.56,127.48 L159.05,127.76 L159.54,128.03 L160.03,128.32 L160.52,128.62 L161.02,128.92 L161.51,129.23 L162.02,129.55 L162.52,129.86 L163.03,130.18 L163.54,130.49 L164.05,130.80 L164.57,131.10 L165.09,131.39 L165.60,131.66 L166.11,131.92 L166.61,132.18 L167.12,132.44 L167.62,132.70 L168.13,132.95 L168.64,133.19 L169.14,133.44 L169.65,133.68 L170.15,133.92 L170.66,134.16 L171.16,134.39 L171.66,134.62 L172.17,134.85 L172.67,135.08 L173.17,135.31 L173.68,135.53 L174.18,135.75 L174.68,135.98 L175.18,136.20 L175.69,136.41 L176.19,136.63 L176.69,136.85 L177.19,137.07 L177.69,137.28 L178.19,137.50 L178.69,137.71 L179.19,137.93 L179.69,138.14 L180.19,138.36 L180.69,138.57 L181.19,138.79 L181.69,139.00 L182.19,139.22 L182.70,139.44 L183.21,139.66 L183.73,139.87 L184.24,140.07 L184.75,140.27 L185.26,140.46 L185.76,140.65 L186.27,140.84 L186.78,141.02 L187.29,141.20 L187.81,141.38 L188.33,141.55 L188.85,141.71 L189.38,141.87 L189.88,142.01 L190.39,142.14 L190.90,142.28 L191.41,142.42 L191.94,142.55 L192.49,142.68 L193.04,142.78 L193.60,142.87 L194.13,142.93 L194.64,142.98 L195.17,143.03 L195.70,143.07 L196.24,143.10 L196.80,143.11 L197.36,143.10 L197.92,143.07 L198.46,143.02 L198.99,142.95 L199.51,142.89 L200.03,142.81 L200.61,142.71 L201.20,142.56 L201.73,142.40 L202.19,142.28 L202.59,142.20 L203.02,142.15 L203.49,142.09 L203.94,142.04 L204.36,142.02 L204.77,142.01 L205.20,142.03 L205.65,142.06 L206.12,142.11 L206.59,142.17 L207.03,142.22 L207.44,142.29 L207.87,142.39 L208.32,142.52 L208.78,142.67 L209.26,142.84 L209.75,143.03 L210.26,143.22 L210.77,143.40 L211.26,143.58 L211.74,143.76 L212.23,143.94 L212.71,144.14 L213.20,144.33 L213.69,144.54 L214.18,144.75 L214.67,144.96 L215.16,145.18 L215.65,145.41 L216.14,145.64 L216.63,145.87 L217.12,146.11 L217.60,146.35 L218.09,146.60 L218.57,146.86 L219.06,147.12 L219.55,147.40 L220.04,147.68 L220.54,147.97 L221.03,148.27 L221.53,148.57 L222.03,148.87 L222.53,149.17 L223.03,149.48 L223.54,149.78 L224.03,150.08 L224.53,150.37 L225.02,150.67 L225.52,150.98 L226.02,151.28 L226.52,151.59 L227.02,151.90 L227.52,152.21 L228.02,152.52 L228.52,152.83 L229.02,153.15 L229.52,153.46 L230.03,153.77 L230.53,154.08 L231.04,154.38 L231.55,154.68 L232.05,154.97 L232.54,155.26 L233.04,155.55 L233.53,155.84 L234.01,156.14 L234.50,156.44 L234.98,156.75 L235.47,157.08 L235.96,157.42 L236.46,157.76 L236.95,158.11 L237.45,158.46 L237.94,158.82 L238.44,159.19 L238.93,159.56 L239.43,159.93 L239.92,160.31 L240.42,160.69 L240.91,161.08 L241.41,161.47 L241.91,161.87 L242.40,162.27 L242.90,162.67 L243.40,163.08 L243.89,163.49 L244.39,163.90 L244.89,164.32 L245.39,164.73 L245.88,165.16 L246.38,165.58 L246.88,166.01 L247.38,166.44 L247.88,166.87 L248.38,167.30 L248.87,167.74 L249.37,168.18 L249.87,168.61 L250.37,169.06 L250.87,169.50 L251.37,169.94 L251.87,170.38 L252.37,170.83 L252.87,171.27 L253.37,171.72 L253.87,172.17 L254.37,172.61 L254.87,173.06 L255.37,173.51 L255.87,173.95 L256.37,174.40 L256.86,174.84 L257.36,175.29 L257.86,175.74 L258.36,176.20 L258.86,176.66 L259.35,177.12 L259.85,177.58 L260.35,178.04 L260.85,178.51 L261.35,178.98 L261.85,179.45 L262.35,179.92 L262.84,180.40 L263.34,180.87 L263.84,181.35 L264.34,181.83 L264.84,182.31 L265.34,182.80 L265.84,183.28 L266.34,183.77 L266.84,184.26 L267.34,184.75 L267.84,185.24 L268.34,185.73 L268.83,186.22 L269.33,186.72 L269.83,187.21 L270.33,187.71 L270.83,188.20 L271.33,188.70 L271.83,189.19 L272.33,189.69 L272.83,190.19 L273.33,190.69 L273.83,191.19 L274.33,191.68 L274.83,192.18 L275.33,192.68 L275.83,193.18 L276.33,193.68 L276.83,194.17 L277.33,194.67 L277.83,195.17 L278.33,195.67 L278.83,196.17 L279.33,196.67 L279.83,197.18 L280.33,197.68 L280.83,198.19 L281.33,198.70 L281.82,199.21 L282.32,199.72 L282.83,200.23 L283.33,200.74 L283.83,201.25 L284.33,201.76 L284.83,202.27 L285.33,202.78 L285.83,203.29 L286.33,203.80 L286.83,204.31 L287.33,204.81 L287.83,205.32 L288.33,205.83 L288.83,206.34 L289.33,206.85 L289.82,207.36 L290.32,207.87 L290.82,208.38 L291.32,208.89 L291.82,209.40 L292.32,209.92 L292.82,210.43 L293.32,210.94 L293.82,211.46 L294.32,211.97 L294.82,212.48 L295.32,213.00 L295.82,213.51 L296.32,214.02 L296.82,214.53 L297.32,215.05 L297.82,215.56 L298.31,216.08 L298.81,216.61 L299.31,217.14 L299.81,217.68 L300.30,218.22 L300.80,218.77 L301.30,219.33 L301.80,219.89 L302.30,220.45 L302.80,221.02 L303.30,221.58 L303.80,222.15 L304.30,222.72 L304.80,223.28 L305.30,223.84 L305.80,224.40 L306.30,224.96 L306.80,225.51 L307.30,226.07 L307.80,226.62 L308.30,227.17 L308.80,227.73 L309.30,228.28 L309.80,228.83 L310.30,229.38 L310.80,229.93 L311.30,230.48 L311.80,231.03 L312.30,231.59 L312.80,232.14 L313.30,232.69 L313.80,233.24 L314.30,233.80 L314.80,234.35 L315.30,234.91 L315.80,235.47 L316.30,236.03 L316.80,236.59 L317.30,237.15 L317.80,237.71 L318.30,238.28 L318.79,238.85 L319.29,239.42 L319.79,239.99 L320.29,240.57 L320.79,241.16 L321.29,241.74 L321.79,242.34 L322.29,242.93 L322.79,243.52 L323.29,244.12 L323.79,244.71 L324.29,245.31 L324.79,245.90 L325.29,246.48 L325.80,247.07 L326.30,247.64 L326.80,248.21 L327.30,248.77 L327.80,249.32 L328.30,249.87 L328.80,250.42 L329.30,250.97 L329.80,251.54 L330.30,252.10 L330.80,252.67 L331.29,253.24 L331.79,253.82 L332.29,254.39 L332.79,254.97 L333.29,255.54 L333.79,256.12 L334.29,256.70 L334.79,257.28 L335.29,257.86 L335.79,258.44 L336.29,259.03 L336.79,259.61 L337.29,260.20 L337.79,260.78 L338.29,261.37 L338.79,261.96 L339.29,262.55 L339.79,263.14 L340.29,263.73 L340.79,264.32 L341.29,264.91 L341.79,265.50 L342.29,266.10 L342.79,266.69 L343.29,267.28 L343.79,267.88 L344.28,268.48 L344.78,269.07 L345.28,269.67 L345.78,270.27 L346.28,270.87 L346.78,271.48 L347.28,272.08 L347.78,272.69 L348.28,273.29 L348.78,273.90 L349.28,274.50 L349.78,275.11 L350.28,275.72 L350.78,276.32 L351.28,276.93 L351.78,277.54 L352.28,278.15 L352.78,278.75 L353.28,279.36 L353.78,279.97 L354.28,280.58 L354.78,281.19 L355.28,281.81 L355.78,282.43 L356.28,283.04 L356.77,283.67 L357.27,284.29 L357.77,284.92 L358.27,285.56 L358.77,286.20 L359.27,286.84 L359.77,287.48 L360.27,288.12 L360.77,288.77 L361.27,289.41 L361.77,290.06 L362.27,290.70 L362.77,291.34 L363.27,291.98 L363.77,292.62 L364.28,293.25 L364.78,293.88 L365.28,294.50 L365.78,295.12 L366.28,295.72 L366.38,295.84 L368.42,294.16 L368.32,294.04 L367.82,293.44 L367.32,292.84 L366.82,292.23 L366.32,291.61 L365.83,290.99 L365.33,290.36 L364.83,289.73 L364.33,289.09 L363.83,288.45 L363.33,287.81 L362.83,287.17 L362.33,286.53 L361.83,285.88 L361.33,285.24 L360.83,284.59 L360.33,283.95 L359.83,283.31 L359.33,282.67 L358.83,282.04 L358.32,281.40 L357.82,280.78 L357.32,280.16 L356.82,279.54 L356.32,278.92 L355.82,278.31 L355.32,277.69 L354.82,277.08 L354.32,276.47 L353.82,275.86 L353.32,275.26 L352.82,274.65 L352.32,274.04 L351.82,273.43 L351.32,272.83 L350.82,272.22 L350.32,271.61 L349.82,271.00 L349.32,270.40 L348.82,269.79 L348.32,269.19 L347.82,268.58 L347.32,267.98 L346.82,267.38 L346.32,266.78 L345.81,266.18 L345.31,265.58 L344.81,264.98 L344.31,264.39 L343.81,263.80 L343.31,263.20 L342.81,262.61 L342.31,262.02 L341.81,261.43 L341.31,260.83 L340.81,260.24 L340.31,259.65 L339.81,259.06 L339.31,258.48 L338.81,257.89 L338.31,257.30 L337.81,256.72 L337.31,256.13 L336.81,255.55 L336.31,254.96 L335.81,254.38 L335.31,253.80 L334.81,253.22 L334.31,252.64 L333.81,252.07 L333.31,251.49 L332.80,250.92 L332.30,250.34 L331.80,249.77 L331.30,249.20 L330.80,248.63 L330.30,248.07 L329.80,247.52 L329.30,246.96 L328.80,246.42 L328.30,245.86 L327.80,245.31 L327.31,244.74 L326.81,244.17 L326.31,243.58 L325.81,243.00 L325.31,242.41 L324.81,241.82 L324.31,241.22 L323.81,240.63 L323.31,240.03 L322.81,239.44 L322.31,238.85 L321.81,238.26 L321.31,237.67 L320.81,237.09 L320.30,236.52 L319.80,235.95 L319.30,235.38 L318.80,234.81 L318.30,234.25 L317.80,233.68 L317.30,233.12 L316.80,232.56 L316.30,232.00 L315.80,231.45 L315.30,230.89 L314.80,230.34 L314.30,229.78 L313.80,229.23 L313.30,228.68 L312.80,228.13 L312.30,227.57 L311.80,227.02 L311.30,226.47 L310.80,225.92 L310.30,225.37 L309.80,224.82 L309.30,224.27 L308.80,223.71 L308.30,223.16 L307.80,222.61 L307.30,222.05 L306.80,221.49 L306.30,220.94 L305.80,220.38 L305.30,219.81 L304.80,219.25 L304.30,218.68 L303.80,218.11 L303.30,217.55 L302.80,216.98 L302.30,216.42 L301.79,215.86 L301.29,215.31 L300.79,214.76 L300.29,214.22 L299.78,213.69 L299.28,213.16 L298.78,212.64 L298.28,212.12 L297.78,211.60 L297.28,211.09 L296.78,210.58 L296.28,210.07 L295.78,209.56 L295.28,209.04 L294.78,208.53 L294.28,208.01 L293.78,207.50 L293.28,206.99 L292.78,206.47 L292.28,205.96 L291.78,205.45 L291.27,204.94 L290.77,204.43 L290.27,203.92 L289.77,203.41 L289.27,202.90 L288.77,202.39 L288.27,201.88 L287.77,201.37 L287.27,200.86 L286.77,200.36 L286.27,199.85 L285.77,199.34 L285.27,198.83 L284.77,198.32 L284.28,197.81 L283.78,197.30 L283.27,196.79 L282.77,196.28 L282.27,195.77 L281.77,195.26 L281.27,194.75 L280.77,194.24 L280.27,193.74 L279.77,193.23 L279.27,192.73 L278.77,192.23 L278.27,191.73 L277.77,191.23 L277.27,190.74 L276.77,190.24 L276.27,189.74 L275.77,189.24 L275.27,188.74 L274.77,188.25 L274.27,187.75 L273.77,187.25 L273.27,186.75 L272.77,186.25 L272.27,185.76 L271.77,185.26 L271.27,184.76 L270.77,184.27 L270.26,183.77 L269.76,183.28 L269.26,182.79 L268.76,182.29 L268.26,181.80 L267.76,181.31 L267.26,180.82 L266.76,180.34 L266.26,179.85 L265.76,179.36 L265.26,178.88 L264.76,178.40 L264.25,177.92 L263.75,177.44 L263.25,176.96 L262.75,176.49 L262.25,176.02 L261.75,175.55 L261.25,175.08 L260.74,174.61 L260.24,174.15 L259.74,173.69 L259.24,173.23 L258.74,172.77 L258.23,172.32 L257.73,171.87 L257.23,171.42 L256.73,170.97 L256.23,170.53 L255.73,170.08 L255.23,169.63 L254.73,169.19 L254.23,168.74 L253.73,168.29 L253.23,167.85 L252.73,167.40 L252.23,166.96 L251.73,166.51 L251.23,166.07 L250.73,165.63 L250.22,165.19 L249.72,164.75 L249.22,164.31 L248.72,163.88 L248.22,163.44 L247.72,163.01 L247.21,162.58 L246.71,162.15 L246.21,161.73 L245.71,161.31 L245.20,160.89 L244.70,160.47 L244.20,160.06 L243.69,159.65 L243.19,159.24 L242.69,158.84 L242.18,158.44 L241.68,158.04 L241.17,157.65 L240.67,157.26 L240.16,156.88 L239.66,156.50 L239.15,156.12 L238.65,155.75 L238.14,155.39 L237.64,155.03 L237.13,154.67 L236.62,154.32 L236.10,153.97 L235.59,153.63 L235.07,153.31 L234.56,152.99 L234.06,152.69 L233.55,152.39 L233.05,152.10 L232.56,151.81 L232.07,151.52 L231.57,151.23 L231.08,150.93 L230.58,150.62 L230.08,150.32 L229.58,150.01 L229.08,149.69 L228.58,149.38 L228.08,149.07 L227.58,148.76 L227.08,148.45 L226.58,148.14 L226.07,147.83 L225.57,147.52 L225.06,147.22 L224.57,146.92 L224.07,146.63 L223.57,146.32 L223.07,146.02 L222.57,145.72 L222.06,145.41 L221.56,145.11 L221.05,144.81 L220.54,144.51 L220.03,144.22 L219.51,143.94 L219.00,143.66 L218.48,143.39 L217.97,143.13 L217.46,142.89 L216.95,142.64 L216.44,142.40 L215.93,142.17 L215.42,141.94 L214.91,141.71 L214.40,141.49 L213.89,141.27 L213.37,141.06 L212.86,140.86 L212.34,140.66 L211.83,140.47 L211.34,140.29 L210.85,140.11 L210.34,139.92 L209.82,139.72 L209.28,139.53 L208.73,139.36 L208.16,139.20 L207.57,139.07 L207.01,138.98 L206.48,138.92 L205.95,138.86 L205.40,138.82 L204.83,138.79 L204.24,138.80 L203.66,138.84 L203.11,138.90 L202.58,138.97 L202.01,139.06 L201.41,139.21 L200.87,139.37 L200.40,139.50 L199.99,139.58 L199.57,139.64 L199.09,139.70 L198.61,139.76 L198.14,139.82 L197.68,139.85 L197.24,139.88 L196.80,139.89 L196.36,139.88 L195.90,139.86 L195.43,139.82 L194.96,139.78 L194.47,139.73 L194.00,139.68 L193.56,139.62 L193.11,139.55 L192.66,139.45 L192.19,139.34 L191.70,139.22 L191.21,139.09 L190.72,138.96 L190.22,138.82 L189.75,138.69 L189.27,138.55 L188.79,138.40 L188.31,138.24 L187.82,138.07 L187.33,137.90 L186.84,137.72 L186.34,137.54 L185.85,137.36 L185.36,137.17 L184.87,136.99 L184.39,136.80 L183.90,136.59 L183.41,136.39 L182.91,136.18 L182.41,135.96 L181.91,135.74 L181.41,135.53 L180.91,135.31 L180.41,135.09 L179.91,134.88 L179.41,134.67 L178.91,134.45 L178.41,134.24 L177.91,134.02 L177.41,133.81 L176.91,133.59 L176.42,133.37 L175.92,133.16 L175.42,132.94 L174.92,132.72 L174.43,132.50 L173.93,132.28 L173.43,132.06 L172.94,131.83 L172.44,131.61 L171.94,131.38 L171.45,131.15 L170.95,130.92 L170.46,130.68 L169.96,130.45 L169.47,130.21 L168.98,129.97 L168.48,129.72 L167.99,129.48 L167.49,129.23 L167.00,128.97 L166.51,128.72 L166.03,128.47 L165.55,128.20 L165.06,127.93 L164.57,127.64 L164.08,127.34 L163.58,127.03 L163.09,126.72 L162.58,126.41 L162.08,126.09 L161.57,125.78 L161.06,125.46 L160.55,125.16 L160.04,124.87 L159.53,124.58 L159.02,124.30 L158.52,124.02 L158.01,123.75 L157.51,123.48 L157.00,123.21 L156.50,122.95 L156.00,122.69 L155.50,122.43 L155.00,122.17 L154.50,121.91 L154.00,121.65 L153.51,121.39 L153.01,121.12 L152.51,120.86 L152.02,120.60 L151.53,120.33 L151.03,120.06 L150.54,119.78 L150.05,119.50 L149.55,119.22 L149.06,118.93 L148.56,118.64 L148.07,118.34 L147.57,118.05 L147.07,117.75 L146.57,117.44 L146.08,117.14 L145.58,116.83 L145.08,116.53 L144.57,116.22 L144.07,115.91 L143.57,115.61 L143.07,115.30 L142.56,115.00 L142.06,114.70 L141.55,114.40 L141.05,114.10 L140.54,113.81 L140.03,113.52 L139.52,113.23 L139.01,112.96 L138.51,112.68 L138.00,112.42 L137.50,112.15 L136.99,111.89 L136.49,111.64 L136.00,111.38 L135.50,111.12 L135.00,110.87 L134.51,110.61 L134.02,110.35 L133.53,110.08 L133.04,109.81 L132.55,109.54 L132.06,109.26 L131.58,108.97 L131.09,108.67 L130.60,108.37 L130.11,108.05 L129.61,107.73 L129.12,107.41 L128.62,107.07 L128.12,106.74 L127.63,106.40 L127.13,106.06 L126.63,105.71 L126.13,105.37 L125.62,105.02 L125.12,104.68 L124.61,104.34 L124.11,104.00 L123.60,103.66 L123.10,103.34 L122.60,103.01 L122.10,102.69 L121.59,102.37 L121.09,102.05 L120.59,101.73 L120.09,101.42 L119.59,101.10 L119.09,100.78 L118.59,100.47 L118.09,100.16 L117.58,99.84 L117.08,99.53 L116.58,99.22 L116.08,98.91 L115.58,98.59 L115.08,98.28 L114.58,97.97 L114.09,97.66 L113.59,97.35 L113.09,97.03 L112.59,96.72 L112.09,96.41 L111.59,96.09 L111.09,95.78 L110.59,95.46 L110.10,95.15 L109.60,94.83 L109.10,94.51 L108.61,94.19 L108.11,93.87 L107.61,93.54 L107.11,93.21 L106.61,92.88 L106.11,92.55 L105.61,92.22 L105.10,91.89 L104.60,91.56 L104.10,91.23 L103.59,90.91 L103.08,90.59 L102.58,90.28 L102.08,89.97 L101.58,89.66 L101.08,89.35 L100.58,89.04 L100.08,88.73 L99.57,88.42 L99.07,88.11 L98.56,87.80 L98.06,87.50 L97.55,87.19 L97.04,86.90 L96.52,86.61 L96.01,86.33 L95.49,86.05 L94.97,85.78 L94.46,85.53 L93.96,85.29 L93.46,85.05 L92.95,84.80 L92.44,84.57 L91.93,84.33 L91.42,84.10 L90.91,83.87 L90.40,83.65 L89.88,83.43 L89.36,83.22 L88.84,83.02 L88.31,82.82 L87.79,82.64 L87.26,82.47 L86.73,82.31 L86.22,82.17 L85.71,82.03 L85.20,81.89 L84.69,81.75 L84.16,81.62 L83.64,81.50 L83.10,81.39 L82.56,81.28 L82.02,81.20 L81.46,81.13 L80.93,81.08 L80.42,81.04 L79.91,81.00 L79.40,80.97 L78.88,80.94 L78.36,80.92 L77.84,80.90 L77.31,80.89 L76.75,80.89 L76.17,80.93 L75.60,80.99 L75.05,81.08 L74.51,81.17 L73.99,81.28 L73.44,81.40 L72.85,81.56 L72.27,81.77 L71.71,82.00 L71.16,82.26 L70.63,82.52 L70.10,82.80 L69.54,83.12 L68.98,83.52 L68.43,83.95 L67.90,84.39 L67.39,84.84 L66.88,85.27 L66.37,85.72 L65.85,86.21 L65.34,86.72 L64.83,87.22Z" fill="#ff0000"/>
<path d="M66.98,283.46 L67.48,282.19 L67.98,280.24 L68.48,277.49 L68.98,273.74 L69.48,269.45 L69.98,265.18 L70.48,261.32 L70.98,258.23 L71.48,255.51 L71.98,253.03 L72.48,250.70 L72.98,248.47 L73.48,246.41 L73.98,244.44 L74.48,242.49 L74.98,240.47 L75.48,238.34 L75.98,236.13 L76.48,234.00 L76.98,232.09 L77.48,230.39 L77.98,228.79 L78.48,227.33 L78.98,226.02 L79.48,224.80 L79.98,223.62 L80.48,222.50 L80.98,221.42 L81.48,220.40 L81.97,219.42 L82.47,218.48 L82.97,217.59 L83.47,216.73 L83.96,215.91 L84.46,215.12 L84.95,214.38 L85.45,213.67 L85.94,212.99 L86.44,212.34 L86.93,211.71 L87.42,211.09 L87.92,210.50 L88.41,209.92 L88.91,209.35 L89.40,208.80 L89.89,208.27 L90.38,207.76 L90.87,207.27 L91.36,206.81 L91.84,206.37 L92.32,205.96 L92.81,205.56 L93.28,205.20 L93.74,204.88 L94.19,204.62 L94.65,204.36 L95.14,204.09 L95.63,203.82 L96.11,203.56 L96.60,203.31 L97.08,203.07 L97.56,202.84 L98.04,202.62 L98.52,202.41 L99.00,202.21 L99.47,202.02 L99.95,201.84 L100.42,201.68 L100.89,201.53 L101.36,201.38 L101.82,201.25 L102.29,201.14 L102.78,201.02 L103.26,200.90 L103.75,200.79 L104.24,200.69 L104.72,200.59 L105.20,200.49 L105.68,200.41 L106.15,200.33 L106.62,200.26 L107.09,200.20 L107.56,200.15 L108.03,200.11 L108.52,200.08 L109.01,200.04 L109.51,200.01 L109.99,199.98 L110.48,199.95 L110.96,199.93 L111.43,199.92 L111.91,199.91 L112.40,199.91 L112.90,199.91 L113.40,199.91 L113.90,199.91 L114.40,199.91 L114.89,199.91 L115.33,199.92 L115.76,199.95 L116.21,199.99 L116.68,200.05 L117.16,200.12 L117.66,200.20 L118.17,200.27 L118.66,200.34 L119.14,200.42 L119.63,200.50 L120.11,200.58 L120.60,200.67 L121.08,200.77 L121.57,200.86 L122.06,200.97 L122.55,201.07 L123.03,201.18 L123.51,201.30 L124.00,201.42 L124.48,201.55 L124.97,201.68 L125.46,201.82 L125.95,201.97 L126.44,202.11 L126.93,202.26 L127.43,202.42 L127.92,202.58 L128.42,202.74 L128.91,202.90 L129.41,203.06 L129.91,203.22 L130.41,203.38 L130.90,203.55 L131.40,203.71 L131.89,203.88 L132.38,204.05 L132.88,204.22 L133.37,204.40 L133.86,204.58 L134.36,204.76 L134.85,204.94 L135.34,205.12 L135.83,205.31 L136.33,205.51 L136.82,205.70 L137.31,205.90 L137.80,206.10 L138.29,206.31 L138.78,206.52 L139.27,206.73 L139.75,206.95 L140.24,207.18 L140.73,207.41 L141.22,207.65 L141.71,207.90 L142.20,208.15 L142.69,208.40 L143.18,208.67 L143.67,208.94 L144.17,209.21 L144.66,209.48 L145.16,209.76 L145.65,210.05 L146.15,210.33 L146.65,210.62 L147.14,210.91 L147.64,211.21 L148.14,211.50 L148.64,211.80 L149.14,212.09 L149.64,212.39 L150.14,212.68 L150.64,212.98 L151.14,213.27 L151.63,213.57 L152.13,213.87 L152.63,214.17 L153.12,214.47 L153.62,214.78 L154.12,215.08 L154.61,215.39 L155.11,215.70 L155.61,216.02 L156.11,216.33 L156.61,216.65 L157.10,216.96 L157.60,217.28 L158.10,217.60 L158.60,217.92 L159.10,218.25 L159.59,218.57 L160.09,218.90 L160.59,219.22 L161.09,219.55 L161.59,219.88 L162.09,220.21 L162.59,220.54 L163.09,220.87 L163.59,221.20 L164.09,221.53 L164.58,221.87 L165.08,222.20 L165.58,222.54 L166.08,222.87 L166.58,223.20 L167.08,223.54 L167.58,223.87 L168.08,224.21 L168.58,224.55 L169.08,224.88 L169.58,225.22 L170.08,225.55 L170.58,225.89 L171.08,226.22 L171.58,226.55 L172.08,226.89 L172.58,227.22 L173.08,227.56 L173.58,227.89 L174.08,228.23 L174.58,228.57 L175.07,228.91 L175.57,229.25 L176.07,229.59 L176.57,229.94 L177.07,230.28 L177.57,230.62 L178.07,230.97 L178.57,231.31 L179.07,231.66 L179.57,232.00 L180.07,232.35 L180.57,232.70 L181.07,233.04 L181.57,233.39 L182.07,233.74 L182.57,234.09 L183.07,234.43 L183.57,234.78 L184.07,235.13 L184.57,235.48 L185.07,235.83 L185.57,236.17 L186.07,236.52 L186.57,236.87 L187.07,237.22 L187.57,237.57 L188.07,237.91 L188.57,238.26 L189.07,238.61 L189.57,238.95 L190.07,239.30 L190.57,239.64 L191.07,239.99 L191.57,240.33 L192.07,240.68 L192.57,241.02 L193.08,241.36 L193.58,241.70 L194.08,242.04 L194.58,242.38 L195.08,242.72 L195.58,243.07 L196.08,243.41 L196.58,243.75 L197.08,244.09 L197.58,244.43 L198.08,244.76 L198.58,245.10 L199.08,245.44 L199.58,245.79 L200.08,246.13 L200.59,246.46 L201.09,246.80 L201.59,247.13 L202.09,247.46 L202.59,247.79 L203.09,248.12 L203.59,248.45 L204.09,248.78 L204.59,249.11 L205.08,249.44 L205.58,249.77 L206.08,250.11 L206.57,250.44 L207.07,250.78 L207.56,251.13 L208.05,251.48 L208.55,251.83 L209.04,252.19 L209.54,252.55 L210.03,252.92 L210.53,253.29 L211.02,253.66 L211.52,254.04 L212.02,254.43 L212.51,254.82 L213.01,255.21 L213.51,255.60 L214.01,256.00 L214.51,256.40 L215.00,256.80 L215.50,257.20 L216.00,257.61 L216.50,258.02 L217.00,258.42 L217.50,258.83 L218.00,259.25 L218.50,259.66 L219.00,260.07 L219.50,260.48 L220.00,260.89 L220.50,261.31 L220.99,261.72 L221.49,262.13 L221.99,262.55 L222.49,262.97 L222.99,263.38 L223.49,263.81 L223.99,264.23 L224.48,264.65 L224.98,265.08 L225.48,265.50 L225.98,265.93 L226.48,266.36 L226.98,266.79 L227.48,267.22 L227.98,267.65 L228.48,268.08 L228.98,268.52 L229.48,268.95 L229.98,269.38 L230.48,269.82 L230.98,270.25 L231.48,270.69 L231.98,271.13 L232.48,271.56 L232.98,272.00 L233.48,272.44 L233.98,272.88 L234.48,273.31 L234.98,273.75 L235.48,274.19 L235.98,274.62 L236.48,275.06 L236.98,275.50 L237.48,275.93 L237.98,276.37 L238.48,276.80 L238.98,277.24 L239.48,277.67 L239.98,278.11 L240.48,278.54 L240.98,278.97 L241.48,279.40 L241.98,279.83 L242.48,280.26 L242.98,280.69 L243.49,281.11 L243.99,281.54 L244.49,281.96 L244.99,282.39 L245.49,282.81 L245.99,283.24 L246.49,283.66 L246.99,284.08 L247.49,284.51 L247.99,284.93 L248.49,285.35 L248.99,285.77 L249.49,286.20 L249.99,286.62 L250.49,287.04 L250.99,287.47 L251.49,287.89 L251.98,288.32 L252.48,288.74 L252.98,289.17 L253.48,289.59 L253.98,290.02 L254.48,290.45 L254.98,290.88 L255.48,291.31 L255.98,291.74 L256.48,292.17 L256.98,292.61 L257.47,293.04 L257.97,293.48 L258.47,293.92 L258.97,294.36 L259.47,294.80 L259.97,295.25 L260.47,295.69 L260.96,296.14 L261.46,296.59 L261.96,297.04 L262.46,297.49 L262.96,297.95 L263.46,298.40 L263.96,298.86 L264.46,299.32 L264.96,299.78 L265.46,300.24 L265.95,300.70 L266.45,301.16 L266.95,301.63 L267.45,302.09 L267.95,302.56 L268.45,303.02 L268.95,303.49 L269.45,303.96 L269.95,304.43 L270.45,304.89 L270.95,305.36 L271.45,305.83 L271.95,306.30 L272.45,306.76 L272.95,307.23 L273.45,307.70 L273.95,308.17 L274.45,308.63 L274.95,309.10 L275.45,309.57 L275.95,310.03 L276.46,310.50 L276.96,310.96 L277.46,311.42 L277.96,311.88 L278.46,312.34 L278.96,312.80 L279.46,313.26 L279.96,313.72 L280.46,314.17 L280.96,314.63 L281.46,315.09 L281.96,315.54 L282.46,316.00 L282.96,316.45 L283.46,316.91 L283.96,317.36 L284.46,317.82 L284.96,318.27 L285.46,318.73 L285.96,319.18 L286.46,319.63 L286.96,320.09 L287.46,320.54 L287.96,320.99 L288.46,321.45 L288.96,321.90 L289.46,322.35 L289.96,322.80 L290.46,323.26 L290.96,323.71 L291.46,324.16 L291.96,324.61 L292.46,325.07 L292.96,325.52 L293.46,325.97 L293.96,326.42 L294.46,326.88 L294.96,327.33 L295.46,327.78 L295.96,328.24 L296.46,328.69 L296.96,329.14 L297.46,329.60 L297.96,330.05 L298.46,330.50 L298.96,330.96 L299.46,331.41 L299.96,331.87 L300.46,332.32 L300.70,332.53 L302.57,330.47 L302.34,330.25 L301.84,329.80 L301.34,329.34 L300.84,328.89 L300.34,328.44 L299.84,327.98 L299.34,327.53 L298.84,327.08 L298.34,326.62 L297.84,326.17 L297.34,325.71 L296.84,325.26 L296.34,324.81 L295.84,324.35 L295.34,323.90 L294.84,323.45 L294.34,323.00 L293.84,322.54 L293.34,322.09 L292.84,321.64 L292.34,321.19 L291.84,320.73 L291.34,320.28 L290.84,319.83 L290.34,319.38 L289.84,318.92 L289.34,318.47 L288.84,318.02 L288.34,317.57 L287.84,317.11 L287.34,316.66 L286.84,316.21 L286.34,315.75 L285.84,315.30 L285.34,314.84 L284.84,314.39 L284.34,313.94 L283.84,313.48 L283.34,313.03 L282.84,312.57 L282.34,312.12 L281.84,311.66 L281.34,311.20 L280.84,310.75 L280.34,310.29 L279.84,309.83 L279.34,309.37 L278.84,308.91 L278.34,308.45 L277.85,307.99 L277.35,307.53 L276.85,307.07 L276.35,306.60 L275.85,306.14 L275.35,305.67 L274.85,305.20 L274.35,304.74 L273.85,304.27 L273.35,303.80 L272.85,303.33 L272.35,302.87 L271.85,302.40 L271.35,301.93 L270.85,301.46 L270.35,301.00 L269.85,300.53 L269.35,300.06 L268.85,299.59 L268.35,299.13 L267.85,298.66 L267.34,298.20 L266.84,297.74 L266.34,297.27 L265.84,296.81 L265.34,296.35 L264.84,295.89 L264.34,295.43 L263.84,294.97 L263.34,294.52 L262.84,294.06 L262.33,293.61 L261.83,293.16 L261.33,292.71 L260.83,292.26 L260.33,291.82 L259.83,291.37 L259.33,290.93 L258.82,290.49 L258.32,290.05 L257.82,289.62 L257.32,289.18 L256.82,288.75 L256.32,288.31 L255.82,287.88 L255.32,287.45 L254.82,287.02 L254.32,286.59 L253.82,286.17 L253.31,285.74 L252.81,285.31 L252.31,284.89 L251.81,284.46 L251.31,284.04 L250.81,283.62 L250.31,283.19 L249.81,282.77 L249.31,282.35 L248.81,281.92 L248.31,281.50 L247.81,281.08 L247.31,280.66 L246.81,280.23 L246.31,279.81 L245.81,279.39 L245.31,278.96 L244.82,278.54 L244.32,278.11 L243.82,277.69 L243.32,277.26 L242.82,276.83 L242.32,276.40 L241.82,275.97 L241.32,275.54 L240.82,275.11 L240.32,274.68 L239.82,274.25 L239.32,273.81 L238.82,273.38 L238.32,272.94 L237.82,272.51 L237.32,272.07 L236.82,271.63 L236.32,271.20 L235.82,270.76 L235.32,270.32 L234.82,269.89 L234.32,269.45 L233.82,269.01 L233.32,268.57 L232.82,268.14 L232.32,267.70 L231.82,267.26 L231.32,266.83 L230.82,266.39 L230.32,265.96 L229.82,265.52 L229.32,265.09 L228.82,264.66 L228.32,264.22 L227.82,263.79 L227.32,263.36 L226.82,262.93 L226.32,262.50 L225.81,262.08 L225.31,261.65 L224.81,261.22 L224.31,260.80 L223.81,260.38 L223.31,259.96 L222.81,259.54 L222.30,259.12 L221.80,258.71 L221.30,258.29 L220.80,257.88 L220.30,257.47 L219.80,257.05 L219.30,256.64 L218.80,256.23 L218.30,255.82 L217.80,255.41 L217.30,255.00 L216.80,254.59 L216.29,254.18 L215.79,253.77 L215.29,253.37 L214.79,252.97 L214.29,252.57 L213.78,252.17 L213.28,251.78 L212.78,251.39 L212.27,251.00 L211.77,250.61 L211.26,250.23 L210.76,249.85 L210.25,249.48 L209.75,249.11 L209.24,248.75 L208.73,248.39 L208.23,248.04 L207.72,247.69 L207.22,247.35 L206.72,247.00 L206.21,246.67 L205.71,246.33 L205.21,246.00 L204.71,245.67 L204.21,245.34 L203.71,245.01 L203.21,244.68 L202.71,244.35 L202.21,244.02 L201.72,243.69 L201.22,243.36 L200.72,243.02 L200.22,242.68 L199.72,242.34 L199.22,242.00 L198.72,241.66 L198.22,241.32 L197.72,240.98 L197.22,240.64 L196.72,240.30 L196.22,239.96 L195.72,239.62 L195.22,239.28 L194.72,238.94 L194.23,238.60 L193.73,238.26 L193.23,237.92 L192.73,237.58 L192.23,237.24 L191.73,236.89 L191.23,236.55 L190.73,236.20 L190.23,235.86 L189.73,235.51 L189.23,235.17 L188.73,234.82 L188.23,234.47 L187.73,234.13 L187.23,233.78 L186.73,233.43 L186.23,233.08 L185.73,232.74 L185.23,232.39 L184.73,232.04 L184.23,231.69 L183.73,231.34 L183.23,230.99 L182.73,230.65 L182.23,230.30 L181.73,229.95 L181.23,229.60 L180.73,229.26 L180.23,228.91 L179.73,228.56 L179.23,228.22 L178.73,227.87 L178.23,227.53 L177.73,227.18 L177.23,226.84 L176.73,226.50 L176.22,226.15 L175.72,225.81 L175.22,225.47 L174.72,225.13 L174.22,224.79 L173.72,224.45 L173.22,224.12 L172.72,223.78 L172.22,223.45 L171.72,223.11 L171.22,222.78 L170.72,222.44 L170.22,222.11 L169.72,221.77 L169.22,221.44 L168.72,221.10 L168.22,220.77 L167.72,220.43 L167.22,220.10 L166.72,219.76 L166.22,219.43 L165.71,219.09 L165.21,218.76 L164.71,218.42 L164.21,218.09 L163.71,217.76 L163.21,217.43 L162.71,217.10 L162.21,216.76 L161.71,216.43 L161.21,216.11 L160.70,215.78 L160.20,215.45 L159.70,215.13 L159.20,214.80 L158.70,214.48 L158.19,214.16 L157.69,213.83 L157.19,213.52 L156.69,213.20 L156.19,212.88 L155.68,212.57 L155.18,212.25 L154.68,211.94 L154.17,211.63 L153.67,211.32 L153.17,211.02 L152.66,210.72 L152.16,210.41 L151.66,210.12 L151.16,209.82 L150.66,209.53 L150.16,209.23 L149.66,208.93 L149.16,208.64 L148.66,208.34 L148.15,208.04 L147.65,207.75 L147.15,207.46 L146.64,207.16 L146.14,206.87 L145.63,206.59 L145.13,206.30 L144.62,206.02 L144.11,205.74 L143.60,205.47 L143.09,205.20 L142.58,204.94 L142.07,204.68 L141.56,204.42 L141.05,204.18 L140.53,203.94 L140.02,203.70 L139.51,203.48 L139.00,203.26 L138.49,203.04 L137.98,202.83 L137.47,202.63 L136.97,202.42 L136.46,202.22 L135.95,202.03 L135.44,201.84 L134.94,201.65 L134.43,201.46 L133.92,201.28 L133.42,201.10 L132.91,200.92 L132.40,200.75 L131.90,200.58 L131.39,200.41 L130.89,200.24 L130.39,200.08 L129.89,199.91 L129.38,199.75 L128.88,199.59 L128.37,199.42 L127.87,199.26 L127.36,199.10 L126.85,198.95 L126.34,198.80 L125.83,198.65 L125.32,198.50 L124.80,198.36 L124.29,198.22 L123.77,198.09 L123.25,197.97 L122.74,197.86 L122.23,197.75 L121.72,197.64 L121.20,197.54 L120.69,197.44 L120.17,197.34 L119.66,197.26 L119.14,197.17 L118.63,197.10 L118.14,197.03 L117.64,196.95 L117.12,196.87 L116.59,196.80 L116.04,196.74 L115.47,196.70 L114.91,196.69 L114.40,196.69 L113.90,196.69 L113.40,196.69 L112.90,196.69 L112.40,196.69 L111.89,196.69 L111.37,196.69 L110.84,196.71 L110.32,196.73 L109.81,196.76 L109.29,196.79 L108.79,196.83 L108.28,196.86 L107.77,196.90 L107.24,196.95 L106.71,197.02 L106.18,197.09 L105.65,197.17 L105.12,197.26 L104.60,197.36 L104.08,197.46 L103.56,197.57 L103.05,197.69 L102.54,197.81 L102.02,197.93 L101.51,198.06 L100.98,198.21 L100.44,198.37 L99.91,198.55 L99.38,198.73 L98.85,198.93 L98.33,199.14 L97.80,199.37 L97.28,199.60 L96.76,199.84 L96.24,200.09 L95.72,200.35 L95.20,200.62 L94.69,200.90 L94.17,201.18 L93.66,201.47 L93.15,201.77 L92.61,202.10 L92.06,202.50 L91.52,202.94 L90.99,203.38 L90.48,203.84 L89.96,204.32 L89.44,204.82 L88.93,205.35 L88.42,205.89 L87.91,206.45 L87.40,207.02 L86.89,207.61 L86.39,208.21 L85.88,208.82 L85.38,209.45 L84.87,210.10 L84.36,210.78 L83.86,211.49 L83.35,212.22 L82.85,212.99 L82.34,213.79 L81.84,214.62 L81.33,215.49 L80.83,216.40 L80.33,217.34 L79.83,218.32 L79.32,219.35 L78.82,220.42 L78.32,221.53 L77.82,222.70 L77.32,223.91 L76.82,225.18 L76.32,226.57 L75.82,228.10 L75.32,229.74 L74.82,231.51 L74.32,233.47 L73.82,235.64 L73.32,237.84 L72.82,239.95 L72.32,241.94 L71.82,243.89 L71.32,245.88 L70.82,247.97 L70.32,250.23 L69.82,252.59 L69.32,255.10 L68.82,257.87 L68.32,261.01 L67.82,264.91 L67.32,269.20 L66.82,273.47 L66.32,277.16 L65.82,279.76 L65.32,281.46 L64.82,282.54Z" fill="#0000ff"/>
<path d="M66.05,140.18 L66.56,140.54 L67.06,140.90 L67.56,141.26 L68.07,141.61 L68.57,141.96 L69.07,142.30 L69.57,142.65 L70.07,143.00 L70.57,143.34 L71.07,143.68 L71.58,144.03 L72.08,144.37 L72.58,144.71 L73.08,145.05 L73.58,145.39 L74.08,145.73 L74.58,146.07 L75.08,146.41 L75.58,146.75 L76.08,147.09 L76.58,147.42 L77.08,147.76 L77.58,148.10 L78.08,148.44 L78.58,148.78 L79.07,149.12 L79.57,149.46 L80.07,149.81 L80.57,150.15 L81.07,150.49 L81.57,150.84 L82.07,151.18 L82.57,151.52 L83.07,151.87 L83.57,152.21 L84.07,152.55 L84.57,152.89 L85.07,153.24 L85.57,153.58 L86.07,153.92 L86.57,154.27 L87.07,154.61 L87.57,154.95 L88.07,155.30 L88.57,155.64 L89.07,155.98 L89.57,156.33 L90.07,156.67 L90.57,157.02 L91.07,157.36 L91.57,157.70 L92.07,158.05 L92.57,158.39 L93.07,158.74 L93.57,159.08 L94.07,159.43 L94.57,159.77 L95.07,160.12 L95.57,160.47 L96.07,160.81 L96.57,161.16 L97.07,161.51 L97.57,161.85 L98.07,162.20 L98.57,162.55 L99.07,162.90 L99.56,163.24 L100.06,163.59 L100.56,163.94 L101.06,164.29 L101.56,164.64 L102.06,164.99 L102.56,165.35 L103.06,165.70 L103.56,166.05 L104.06,166.40 L104.56,166.74 L105.06,167.09 L105.56,167.44 L106.06,167.79 L106.56,168.14 L107.06,168.49 L107.56,168.84 L108.06,169.19 L108.56,169.54 L109.06,169.89 L109.56,170.24 L110.06,170.59 L110.56,170.95 L111.06,171.30 L111.56,171.65 L112.06,172.00 L112.56,172.36 L113.06,172.71 L113.56,173.06 L114.06,173.42 L114.55,173.77 L115.05,174.13 L115.55,174.49 L116.05,174.85 L116.55,175.21 L117.05,175.57 L117.55,175.93 L118.05,176.29 L118.55,176.65 L119.04,177.02 L119.54,177.38 L120.04,177.75 L120.54,178.12 L121.04,178.49 L121.54,178.86 L122.03,179.23 L122.53,179.60 L123.02,179.97 L123.52,180.36 L124.01,180.75 L124.51,181.14 L125.01,181.53 L125.51,181.93 L126.01,182.33 L126.51,182.73 L127.02,183.13 L127.52,183.53 L128.03,183.92 L128.53,184.31 L129.04,184.69 L129.55,185.07 L130.06,185.43 L130.56,185.80 L131.07,186.15 L131.57,186.50 L132.07,186.85 L132.58,187.20 L133.08,187.54 L133.58,187.88 L134.08,188.22 L134.58,188.55 L135.08,188.89 L135.58,189.22 L136.08,189.56 L136.58,189.89 L137.07,190.23 L137.57,190.57 L138.07,190.91 L138.56,191.25 L139.06,191.60 L139.56,191.95 L140.06,192.31 L140.56,192.66 L141.06,193.02 L141.55,193.37 L142.05,193.73 L142.55,194.09 L143.05,194.44 L143.55,194.80 L144.05,195.16 L144.55,195.53 L145.05,195.89 L145.55,196.25 L146.05,196.61 L146.54,196.98 L147.04,197.34 L147.54,197.71 L148.04,198.08 L148.54,198.45 L149.04,198.82 L149.54,199.19 L150.04,199.56 L150.54,199.93 L151.04,200.30 L151.54,200.68 L152.03,201.05 L152.53,201.42 L153.03,201.80 L153.53,202.17 L154.03,202.55 L154.53,202.93 L155.03,203.30 L155.53,203.68 L156.03,204.06 L156.53,204.44 L157.03,204.82 L157.53,205.20 L158.03,205.58 L158.53,205.96 L159.03,206.34 L159.52,206.73 L160.02,207.11 L160.52,207.49 L161.02,207.88 L161.52,208.26 L162.02,208.65 L162.52,209.03 L163.02,209.42 L163.52,209.81 L164.02,210.20 L164.52,210.59 L165.02,210.98 L165.52,211.37 L166.02,211.76 L166.51,212.15 L167.01,212.54 L167.51,212.94 L168.01,213.33 L168.51,213.73 L169.01,214.12 L169.51,214.52 L170.01,214.92 L170.51,215.31 L171.01,215.71 L171.51,216.11 L172.01,216.51 L172.50,216.91 L173.00,217.32 L173.50,217.72 L174.00,218.13 L174.50,218.53 L175.00,218.94 L175.50,219.35 L176.00,219.76 L176.50,220.17 L177.00,220.58 L177.50,220.99 L177.99,221.41 L178.49,221.82 L178.99,222.24 L179.49,222.65 L179.99,223.07 L180.49,223.49 L180.99,223.90 L181.49,224.32 L181.99,224.74 L182.49,225.16 L182.99,225.58 L183.49,226.00 L183.99,226.42 L184.49,226.84 L184.99,227.26 L185.49,227.68 L185.99,228.11 L186.49,228.53 L186.99,228.95 L187.49,229.37 L187.99,229.79 L188.49,230.22 L188.99,230.64 L189.49,231.06 L189.99,231.48 L190.49,231.90 L190.99,232.32 L191.49,232.75 L191.99,233.17 L192.49,233.59 L192.99,234.01 L193.49,234.43 L193.98,234.85 L194.48,235.28 L194.98,235.71 L195.48,236.13 L195.98,236.56 L196.49,236.99 L196.99,237.41 L197.49,237.84 L197.99,238.26 L198.49,238.69 L198.99,239.11 L199.50,239.53 L200.00,239.94 L200.50,240.35 L201.00,240.76 L201.50,241.17 L202.00,241.58 L202.50,241.99 L203.01,242.39 L203.51,242.79 L204.01,243.20 L204.51,243.60 L205.01,244.00 L205.51,244.40 L206.00,244.81 L206.50,245.21 L207.00,245.61 L207.50,246.02 L208.00,246.42 L208.50,246.83 L209.00,247.24 L209.50,247.65 L209.99,248.07 L210.49,248.48 L210.99,248.90 L211.49,249.31 L211.99,249.73 L212.49,250.14 L212.99,250.56 L213.49,250.98 L213.99,251.40 L214.49,251.82 L214.99,252.24 L215.49,252.66 L215.99,253.08 L216.49,253.50 L216.99,253.92 L217.49,254.34 L217.99,254.77 L218.48,255.19 L218.98,255.62 L219.48,256.04 L219.98,256.47 L220.48,256.90 L220.98,257.33 L221.48,257.76 L221.98,258.19 L222.48,258.62 L222.98,259.05 L223.48,259.48 L223.98,259.91 L224.48,260.35 L224.98,260.78 L225.48,261.22 L225.97,261.66 L226.47,262.09 L226.97,262.53 L227.47,262.97 L227.97,263.41 L228.47,263.85 L228.97,264.28 L229.47,264.72 L229.97,265.16 L230.47,265.60 L230.97,266.05 L231.47,266.49 L231.97,266.93 L232.47,267.37 L232.97,267.81 L233.47,268.25 L233.97,268.69 L234.47,269.13 L234.97,269.58 L235.47,270.02 L235.97,270.46 L236.47,270.90 L236.97,271.34 L237.47,271.78 L237.97,272.22 L238.47,272.66 L238.97,273.10 L239.47,273.54 L239.97,273.98 L240.47,274.42 L240.98,274.86 L241.48,275.30 L241.98,275.73 L242.48,276.17 L242.98,276.60 L243.48,277.04 L243.98,277.47 L244.48,277.91 L244.98,278.34 L245.48,278.77 L245.98,279.20 L246.48,279.64 L246.98,280.07 L247.48,280.50 L247.98,280.93 L248.48,281.36 L248.98,281.79 L249.48,282.22 L249.98,282.65 L250.48,283.09 L250.98,283.52 L251.48,283.95 L251.98,284.38 L252.48,284.82 L252.98,285.25 L253.48,285.69 L253.97,286.12 L254.47,286.56 L254.97,287.00 L255.47,287.44 L255.97,287.88 L256.47,288.32 L256.97,288.76 L257.47,289.21 L257.97,289.65 L258.46,290.10 L258.96,290.55 L259.46,291.00 L259.96,291.45 L260.46,291.90 L260.96,292.36 L261.46,292.81 L261.96,293.27 L262.46,293.73 L262.96,294.19 L263.45,294.65 L263.95,295.12 L264.45,295.58 L264.95,296.05 L265.45,296.51 L265.95,296.98 L266.45,297.45 L266.95,297.92 L267.45,298.39 L267.95,298.86 L268.45,299.33 L268.95,299.81 L269.45,300.28 L269.95,300.75 L270.45,301.23 L270.95,301.70 L271.45,302.17 L271.95,302.65 L272.45,303.12 L272.95,303.60 L273.45,304.07 L273.95,304.55 L274.45,305.02 L274.95,305.50 L275.45,305.97 L275.95,306.45 L276.45,306.92 L276.95,307.40 L277.45,307.87 L277.95,308.35 L278.45,308.82 L278.95,309.29 L279.45,309.76 L279.95,310.23 L280.45,310.71 L280.95,311.18 L281.45,311.65 L281.95,312.12 L282.45,312.60 L282.95,313.07 L283.45,313.54 L283.95,314.01 L284.45,314.49 L284.95,314.96 L285.45,315.43 L285.95,315.91 L286.45,316.38 L286.95,316.86 L287.45,317.33 L287.95,317.80 L288.45,318.28 L288.95,318.75 L289.45,319.23 L289.95,319.70 L290.45,320.18 L290.95,320.65 L291.45,321.12 L291.95,321.60 L292.45,322.07 L292.95,322.55 L293.45,323.02 L293.95,323.50 L294.45,323.97 L294.95,324.45 L295.45,324.92 L295.95,325.40 L296.45,325.87 L296.95,326.34 L297.45,326.82 L297.95,327.29 L298.45,327.77 L298.95,328.24 L299.45,328.72 L299.95,329.19 L300.45,329.66 L300.95,330.14 L301.45,330.61 L301.95,331.08 L302.45,331.56 L302.95,332.03 L303.45,332.50 L305.35,330.50 L304.85,330.02 L304.35,329.55 L303.85,329.07 L303.35,328.60 L302.85,328.13 L302.35,327.65 L301.85,327.18 L301.35,326.71 L300.85,326.23 L300.35,325.76 L299.85,325.28 L299.35,324.81 L298.85,324.34 L298.35,323.86 L297.85,323.39 L297.35,322.91 L296.85,322.44 L296.35,321.96 L295.85,321.49 L295.35,321.02 L294.85,320.54 L294.35,320.07 L293.85,319.59 L293.35,319.12 L292.85,318.64 L292.35,318.17 L291.85,317.69 L291.35,317.22 L290.85,316.74 L290.35,316.27 L289.85,315.80 L289.35,315.32 L288.85,314.85 L288.35,314.37 L287.85,313.90 L287.35,313.42 L286.85,312.95 L286.35,312.48 L285.85,312.00 L285.35,311.53 L284.85,311.06 L284.35,310.58 L283.85,310.11 L283.35,309.64 L282.85,309.16 L282.35,308.69 L281.85,308.22 L281.35,307.75 L280.85,307.28 L280.35,306.80 L279.85,306.33 L279.35,305.86 L278.85,305.39 L278.35,304.91 L277.85,304.44 L277.35,303.97 L276.85,303.49 L276.35,303.02 L275.85,302.54 L275.35,302.07 L274.85,301.59 L274.35,301.12 L273.85,300.64 L273.35,300.17 L272.85,299.69 L272.35,299.22 L271.85,298.74 L271.35,298.27 L270.85,297.79 L270.35,297.32 L269.85,296.85 L269.35,296.37 L268.85,295.90 L268.35,295.43 L267.85,294.96 L267.35,294.49 L266.85,294.02 L266.35,293.55 L265.85,293.08 L265.35,292.62 L264.84,292.15 L264.34,291.69 L263.84,291.22 L263.34,290.76 L262.84,290.30 L262.34,289.84 L261.84,289.38 L261.34,288.93 L260.84,288.47 L260.34,288.02 L259.83,287.57 L259.33,287.12 L258.83,286.67 L258.33,286.22 L257.83,285.78 L257.33,285.33 L256.83,284.89 L256.33,284.45 L255.83,284.01 L255.32,283.57 L254.82,283.13 L254.32,282.70 L253.82,282.26 L253.32,281.83 L252.82,281.39 L252.32,280.96 L251.82,280.52 L251.32,280.09 L250.82,279.66 L250.32,279.23 L249.82,278.80 L249.32,278.36 L248.82,277.93 L248.32,277.50 L247.82,277.07 L247.32,276.64 L246.82,276.21 L246.32,275.78 L245.82,275.34 L245.32,274.91 L244.82,274.48 L244.32,274.05 L243.82,273.61 L243.32,273.18 L242.82,272.74 L242.33,272.31 L241.83,271.87 L241.33,271.43 L240.83,270.99 L240.33,270.55 L239.83,270.11 L239.33,269.67 L238.83,269.23 L238.33,268.79 L237.83,268.35 L237.33,267.91 L236.83,267.47 L236.33,267.03 L235.83,266.59 L235.33,266.15 L234.83,265.71 L234.33,265.27 L233.83,264.82 L233.33,264.38 L232.83,263.94 L232.33,263.50 L231.83,263.06 L231.33,262.62 L230.83,262.18 L230.33,261.74 L229.83,261.30 L229.33,260.86 L228.83,260.42 L228.33,259.98 L227.83,259.54 L227.32,259.10 L226.82,258.67 L226.32,258.23 L225.82,257.79 L225.32,257.36 L224.82,256.92 L224.32,256.49 L223.82,256.05 L223.32,255.62 L222.82,255.19 L222.32,254.76 L221.82,254.33 L221.32,253.90 L220.82,253.47 L220.32,253.04 L219.81,252.62 L219.31,252.19 L218.81,251.77 L218.31,251.34 L217.81,250.92 L217.31,250.49 L216.81,250.07 L216.31,249.65 L215.81,249.23 L215.31,248.81 L214.81,248.39 L214.31,247.97 L213.81,247.55 L213.31,247.13 L212.81,246.72 L212.31,246.30 L211.81,245.88 L211.30,245.47 L210.80,245.05 L210.30,244.64 L209.80,244.23 L209.30,243.81 L208.80,243.40 L208.30,243.00 L207.80,242.59 L207.29,242.18 L206.79,241.78 L206.29,241.38 L205.79,240.98 L205.29,240.57 L204.79,240.17 L204.30,239.77 L203.80,239.37 L203.30,238.96 L202.80,238.56 L202.30,238.15 L201.80,237.75 L201.30,237.34 L200.81,236.93 L200.31,236.51 L199.81,236.10 L199.31,235.68 L198.81,235.26 L198.31,234.84 L197.82,234.41 L197.32,233.99 L196.82,233.56 L196.32,233.13 L195.82,232.71 L195.31,232.28 L194.81,231.85 L194.31,231.43 L193.81,231.00 L193.31,230.58 L192.81,230.16 L192.31,229.74 L191.81,229.32 L191.31,228.90 L190.81,228.48 L190.31,228.05 L189.81,227.63 L189.31,227.21 L188.81,226.79 L188.31,226.37 L187.81,225.94 L187.31,225.52 L186.81,225.10 L186.31,224.68 L185.81,224.26 L185.31,223.83 L184.81,223.41 L184.31,222.99 L183.81,222.57 L183.31,222.15 L182.81,221.73 L182.31,221.31 L181.81,220.89 L181.31,220.48 L180.81,220.06 L180.31,219.64 L179.81,219.23 L179.30,218.81 L178.80,218.39 L178.30,217.98 L177.80,217.57 L177.30,217.15 L176.80,216.74 L176.30,216.33 L175.80,215.92 L175.30,215.51 L174.80,215.11 L174.30,214.70 L173.79,214.29 L173.29,213.89 L172.79,213.49 L172.29,213.09 L171.79,212.68 L171.29,212.28 L170.79,211.89 L170.29,211.49 L169.79,211.09 L169.29,210.69 L168.79,210.30 L168.29,209.90 L167.78,209.51 L167.28,209.11 L166.78,208.72 L166.28,208.33 L165.78,207.94 L165.28,207.55 L164.78,207.16 L164.28,206.77 L163.78,206.38 L163.28,205.99 L162.78,205.60 L162.28,205.22 L161.78,204.83 L161.28,204.45 L160.77,204.06 L160.27,203.68 L159.77,203.29 L159.27,202.91 L158.77,202.53 L158.27,202.15 L157.77,201.77 L157.27,201.39 L156.77,201.01 L156.27,200.63 L155.77,200.25 L155.27,199.87 L154.77,199.49 L154.27,199.12 L153.77,198.74 L153.26,198.37 L152.76,197.99 L152.26,197.62 L151.76,197.24 L151.26,196.87 L150.76,196.50 L150.26,196.12 L149.76,195.75 L149.26,195.38 L148.76,195.01 L148.26,194.64 L147.75,194.28 L147.25,193.91 L146.75,193.54 L146.25,193.18 L145.75,192.82 L145.25,192.45 L144.75,192.09 L144.25,191.73 L143.75,191.37 L143.25,191.01 L142.74,190.65 L142.24,190.29 L141.74,189.93 L141.24,189.58 L140.74,189.22 L140.24,188.87 L139.73,188.51 L139.23,188.16 L138.73,187.81 L138.22,187.47 L137.72,187.13 L137.22,186.79 L136.72,186.45 L136.22,186.12 L135.72,185.78 L135.22,185.45 L134.72,185.11 L134.22,184.78 L133.73,184.44 L133.23,184.10 L132.73,183.76 L132.24,183.41 L131.74,183.07 L131.25,182.72 L130.76,182.36 L130.27,182.00 L129.77,181.63 L129.28,181.26 L128.78,180.87 L128.29,180.49 L127.79,180.09 L127.29,179.70 L126.79,179.30 L126.29,178.90 L125.79,178.50 L125.28,178.10 L124.78,177.71 L124.27,177.31 L123.77,176.92 L123.26,176.54 L122.76,176.17 L122.26,175.80 L121.76,175.42 L121.26,175.05 L120.76,174.68 L120.25,174.32 L119.75,173.95 L119.25,173.58 L118.75,173.22 L118.25,172.85 L117.75,172.49 L117.25,172.13 L116.75,171.77 L116.25,171.41 L115.74,171.05 L115.24,170.69 L114.74,170.34 L114.24,169.98 L113.74,169.63 L113.24,169.27 L112.74,168.92 L112.24,168.56 L111.74,168.21 L111.24,167.86 L110.74,167.51 L110.24,167.16 L109.74,166.80 L109.24,166.45 L108.74,166.10 L108.24,165.75 L107.74,165.40 L107.24,165.05 L106.74,164.70 L106.24,164.35 L105.74,164.01 L105.24,163.66 L104.74,163.31 L104.24,162.96 L103.74,162.61 L103.24,162.26 L102.74,161.91 L102.24,161.56 L101.74,161.20 L101.24,160.85 L100.73,160.50 L100.23,160.16 L99.73,159.81 L99.23,159.46 L98.73,159.11 L98.23,158.76 L97.73,158.41 L97.23,158.07 L96.73,157.72 L96.23,157.37 L95.73,157.03 L95.23,156.68 L94.73,156.33 L94.23,155.99 L93.73,155.64 L93.23,155.30 L92.73,154.95 L92.23,154.61 L91.73,154.26 L91.23,153.92 L90.73,153.58 L90.23,153.23 L89.73,152.89 L89.23,152.54 L88.73,152.20 L88.23,151.86 L87.73,151.51 L87.23,151.17 L86.73,150.83 L86.23,150.48 L85.73,150.14 L85.23,149.80 L84.73,149.45 L84.23,149.11 L83.73,148.77 L83.23,148.43 L82.73,148.08 L82.23,147.74 L81.73,147.39 L81.23,147.05 L80.73,146.71 L80.22,146.36 L79.72,146.02 L79.22,145.68 L78.72,145.34 L78.22,145.00 L77.72,144.66 L77.22,144.32 L76.72,143.98 L76.22,143.64 L75.72,143.31 L75.22,142.97 L74.72,142.63 L74.22,142.29 L73.72,141.95 L73.22,141.61 L72.73,141.27 L72.23,140.93 L71.73,140.59 L71.23,140.24 L70.73,139.90 L70.23,139.56 L69.73,139.21 L69.24,138.87 L68.74,138.52 L68.24,138.17 L67.75,137.82Z" fill="#00ff00"/>
<path d="M68.02,185.35 L68.44,184.93 L68.68,184.73 L68.94,184.61 L69.36,184.46 L69.75,184.34 L70.11,184.26 L70.43,184.21 L70.74,184.24 L71.08,184.31 L71.47,184.43 L71.91,184.58 L72.36,184.73 L72.74,184.89 L73.11,185.10 L73.54,185.37 L74.01,185.70 L74.53,186.04 L75.05,186.37 L75.55,186.68 L76.04,187.00 L76.54,187.31 L77.03,187.63 L77.52,187.96 L78.02,188.29 L78.52,188.62 L79.01,188.95 L79.51,189.28 L80.01,189.62 L80.52,189.96 L81.03,190.29 L81.53,190.62 L82.02,190.94 L82.51,191.26 L82.99,191.59 L83.46,191.93 L83.92,192.28 L84.38,192.65 L84.84,193.04 L85.30,193.47 L85.77,193.93 L86.24,194.42 L86.73,194.93 L87.22,195.46 L87.71,196.01 L88.21,196.56 L88.69,197.10 L89.18,197.67 L89.67,198.26 L90.16,198.86 L90.66,199.48 L91.17,200.10 L91.69,200.71 L92.20,201.30 L92.72,201.87 L93.22,202.42 L93.72,202.97 L94.22,203.51 L94.71,204.05 L95.20,204.61 L95.69,205.18 L96.19,205.75 L96.69,206.33 L97.18,206.91 L97.68,207.49 L98.18,208.08 L98.68,208.66 L99.18,209.26 L99.68,209.85 L100.18,210.44 L100.68,211.03 L101.18,211.62 L101.68,212.21 L102.18,212.81 L102.68,213.40 L103.18,214.00 L103.67,214.59 L104.17,215.19 L104.67,215.78 L105.17,216.38 L105.67,216.98 L106.17,217.58 L106.67,218.18 L107.17,218.78 L107.67,219.38 L108.17,219.98 L108.67,220.58 L109.17,221.18 L109.67,221.79 L110.17,222.39 L110.67,222.99 L111.17,223.60 L111.67,224.20 L112.17,224.80 L112.67,225.41 L113.17,226.01 L113.67,226.62 L114.17,227.22 L114.67,227.83 L115.17,228.43 L115.67,229.04 L116.17,229.64 L116.67,230.25 L117.17,230.85 L117.67,231.46 L118.17,232.06 L118.67,232.66 L119.17,233.27 L119.67,233.87 L120.17,234.48 L120.67,235.08 L121.17,235.69 L121.67,236.30 L122.17,236.90 L122.67,237.51 L123.17,238.12 L123.67,238.72 L124.17,239.33 L124.67,239.94 L125.17,240.54 L125.67,241.15 L126.17,241.76 L126.67,242.37 L127.17,242.98 L127.67,243.58 L128.17,244.19 L128.67,244.80 L129.17,245.41 L129.67,246.02 L130.17,246.63 L130.66,247.23 L131.16,247.84 L131.66,248.45 L132.16,249.06 L132.66,249.67 L133.16,250.28 L133.66,250.89 L134.16,251.50 L134.66,252.11 L135.16,252.72 L135.66,253.33 L136.16,253.93 L136.66,254.54 L137.16,255.15 L137.66,255.76 L138.16,256.37 L138.66,256.98 L139.16,257.59 L139.66,258.20 L140.16,258.81 L140.66,259.42 L141.16,260.02 L141.66,260.63 L142.16,261.24 L142.66,261.85 L143.16,262.46 L143.66,263.07 L144.16,263.68 L144.66,264.29 L145.16,264.90 L145.66,265.51 L146.16,266.12 L146.66,266.73 L147.16,267.34 L147.66,267.95 L148.16,268.56 L148.66,269.17 L149.16,269.78 L149.66,270.39 L150.16,271.00 L150.66,271.61 L151.16,272.22 L151.66,272.83 L152.16,273.44 L152.66,274.05 L153.16,274.66 L153.66,275.27 L154.16,275.88 L154.66,276.49 L155.16,277.10 L155.66,277.71 L156.16,278.32 L156.66,278.93 L157.16,279.54 L157.66,280.15 L158.16,280.76 L158.66,281.37 L159.16,281.98 L159.66,282.59 L160.16,283.20 L160.66,283.81 L161.16,284.42 L161.66,285.03 L162.16,285.64 L162.66,286.25 L163.16,286.86 L163.66,287.47 L164.16,288.08 L164.66,288.69 L165.16,289.30 L165.66,289.91 L166.16,290.52 L166.66,291.13 L167.16,291.74 L167.66,292.35 L168.16,292.96 L168.66,293.57 L169.16,294.18 L169.66,294.79 L170.16,295.40 L170.66,296.01 L171.16,296.62 L171.66,297.23 L172.16,297.84 L172.66,298.45 L173.16,299.06 L173.66,299.67 L174.16,300.28 L174.66,300.89 L175.16,301.50 L175.66,302.11 L176.16,302.72 L176.66,303.33 L177.16,303.93 L177.66,304.54 L178.16,305.15 L178.66,305.76 L179.16,306.37 L179.66,306.98 L180.16,307.59 L180.67,308.20 L181.17,308.81 L181.67,309.41 L182.17,310.02 L182.67,310.63 L183.17,311.24 L183.67,311.85 L184.17,312.46 L184.67,313.07 L185.17,313.68 L185.67,314.28 L186.17,314.89 L186.67,315.50 L187.17,316.11 L187.67,316.72 L188.17,317.33 L188.67,317.94 L189.17,318.54 L189.67,319.15 L190.17,319.76 L190.67,320.37 L191.17,320.98 L191.67,321.59 L192.17,322.20 L192.67,322.81 L193.17,323.41 L193.67,324.02 L194.17,324.63 L194.67,325.24 L195.17,325.85 L195.67,326.46 L196.17,327.07 L196.67,327.67 L197.17,328.28 L197.66,328.89 L198.16,329.50 L198.66,330.11 L199.16,330.72 L199.66,331.33 L200.16,331.94 L200.64,332.51 L203.11,330.49 L202.64,329.91 L202.14,329.30 L201.64,328.69 L201.14,328.08 L200.64,327.47 L200.14,326.86 L199.63,326.26 L199.13,325.65 L198.63,325.04 L198.13,324.43 L197.63,323.82 L197.13,323.21 L196.63,322.60 L196.13,321.99 L195.63,321.38 L195.13,320.78 L194.63,320.17 L194.13,319.56 L193.63,318.95 L193.13,318.34 L192.63,317.73 L192.13,317.12 L191.63,316.52 L191.13,315.91 L190.63,315.30 L190.13,314.69 L189.63,314.08 L189.13,313.47 L188.63,312.86 L188.13,312.26 L187.63,311.65 L187.13,311.04 L186.63,310.43 L186.13,309.82 L185.63,309.21 L185.13,308.60 L184.63,307.99 L184.13,307.39 L183.63,306.78 L183.13,306.17 L182.64,305.56 L182.14,304.95 L181.64,304.34 L181.14,303.73 L180.64,303.12 L180.14,302.51 L179.64,301.91 L179.14,301.30 L178.64,300.69 L178.14,300.08 L177.64,299.47 L177.14,298.86 L176.64,298.25 L176.14,297.64 L175.64,297.03 L175.14,296.42 L174.64,295.81 L174.14,295.21 L173.64,294.60 L173.14,293.99 L172.64,293.38 L172.14,292.77 L171.64,292.16 L171.14,291.55 L170.64,290.94 L170.14,290.33 L169.64,289.72 L169.14,289.11 L168.64,288.50 L168.14,287.89 L167.64,287.28 L167.14,286.67 L166.64,286.06 L166.14,285.45 L165.64,284.84 L165.14,284.23 L164.64,283.62 L164.14,283.01 L163.64,282.40 L163.14,281.79 L162.64,281.18 L162.14,280.57 L161.64,279.96 L161.14,279.35 L160.64,278.74 L160.14,278.13 L159.64,277.52 L159.14,276.91 L158.64,276.29 L158.14,275.68 L157.64,275.07 L157.14,274.46 L156.64,273.85 L156.14,273.25 L155.64,272.64 L155.14,272.03 L154.64,271.42 L154.14,270.81 L153.64,270.19 L153.14,269.58 L152.64,268.97 L152.14,268.36 L151.64,267.75 L151.14,267.14 L150.64,266.53 L150.14,265.92 L149.64,265.31 L149.14,264.70 L148.64,264.09 L148.14,263.48 L147.64,262.87 L147.14,262.26 L146.64,261.65 L146.14,261.05 L145.64,260.44 L145.14,259.83 L144.64,259.22 L144.14,258.61 L143.64,258.00 L143.14,257.39 L142.64,256.78 L142.14,256.17 L141.64,255.56 L141.14,254.95 L140.64,254.34 L140.14,253.73 L139.64,253.12 L139.14,252.52 L138.64,251.91 L138.14,251.30 L137.64,250.69 L137.14,250.08 L136.64,249.47 L136.14,248.86 L135.64,248.25 L135.14,247.64 L134.64,247.03 L134.14,246.42 L133.64,245.82 L133.14,245.21 L132.63,244.60 L132.13,243.99 L131.63,243.38 L131.13,242.77 L130.63,242.16 L130.13,241.55 L129.63,240.95 L129.13,240.34 L128.63,239.73 L128.13,239.12 L127.63,238.51 L127.13,237.91 L126.63,237.30 L126.13,236.69 L125.63,236.08 L125.13,235.48 L124.63,234.87 L124.13,234.26 L123.63,233.66 L123.13,233.05 L122.63,232.44 L122.13,231.84 L121.63,231.23 L121.13,230.63 L120.63,230.02 L120.13,229.42 L119.63,228.81 L119.13,228.21 L118.63,227.60 L118.13,227.00 L117.63,226.40 L117.13,225.79 L116.63,225.19 L116.13,224.58 L115.63,223.98 L115.13,223.37 L114.63,222.77 L114.13,222.16 L113.63,221.56 L113.13,220.95 L112.63,220.35 L112.13,219.75 L111.63,219.14 L111.13,218.54 L110.63,217.94 L110.13,217.34 L109.63,216.73 L109.13,216.13 L108.63,215.53 L108.13,214.93 L107.63,214.33 L107.13,213.73 L106.63,213.14 L106.13,212.54 L105.62,211.94 L105.12,211.34 L104.62,210.75 L104.12,210.15 L103.62,209.56 L103.12,208.97 L102.62,208.38 L102.12,207.78 L101.62,207.19 L101.12,206.60 L100.62,206.01 L100.12,205.42 L99.62,204.83 L99.11,204.24 L98.61,203.66 L98.11,203.08 L97.60,202.50 L97.09,201.92 L96.58,201.36 L96.08,200.80 L95.58,200.26 L95.08,199.72 L94.60,199.18 L94.11,198.63 L93.63,198.05 L93.14,197.46 L92.64,196.85 L92.13,196.23 L91.62,195.61 L91.11,195.00 L90.59,194.42 L90.09,193.86 L89.58,193.31 L89.07,192.75 L88.56,192.20 L88.03,191.67 L87.50,191.15 L86.96,190.65 L86.42,190.18 L85.88,189.76 L85.34,189.36 L84.81,188.98 L84.29,188.62 L83.78,188.28 L83.27,187.95 L82.77,187.63 L82.28,187.30 L81.79,186.98 L81.29,186.64 L80.79,186.30 L80.28,185.97 L79.78,185.63 L79.28,185.30 L78.77,184.97 L78.26,184.64 L77.76,184.31 L77.25,183.99 L76.75,183.68 L76.27,183.37 L75.79,183.05 L75.26,182.70 L74.69,182.35 L74.06,182.03 L73.44,181.80 L72.89,181.61 L72.33,181.44 L71.72,181.30 L71.06,181.21 L70.37,181.20 L69.69,181.23 L69.05,181.33 L68.44,181.49 L67.86,181.68 L67.12,181.97 L66.36,182.50 L65.78,183.05Z" fill="#00ffff"/>
<path d="M67.32,236.89 L67.81,236.05 L68.29,235.30 L68.76,234.63 L69.24,233.97 L69.72,233.34 L70.18,232.77 L70.60,232.29 L71.00,231.91 L71.44,231.55 L71.92,231.15 L72.38,230.78 L72.79,230.47 L73.13,230.23 L73.38,230.05 L73.54,229.90 L73.83,229.81 L74.28,229.81 L74.77,229.83 L75.25,229.84 L75.74,229.87 L76.23,229.89 L76.70,229.92 L77.08,230.00 L77.38,230.12 L77.72,230.28 L78.10,230.47 L78.52,230.69 L78.97,230.94 L79.46,231.21 L79.94,231.48 L80.38,231.74 L80.79,232.02 L81.22,232.34 L81.67,232.70 L82.13,233.09 L82.60,233.51 L83.08,233.95 L83.58,234.40 L84.07,234.87 L84.58,235.34 L85.07,235.79 L85.54,236.25 L86.03,236.72 L86.51,237.22 L87.00,237.72 L87.49,238.24 L87.98,238.77 L88.48,239.30 L88.98,239.84 L89.48,240.38 L89.99,240.92 L90.49,241.46 L91.00,241.99 L91.50,242.52 L92.00,243.04 L92.50,243.57 L93.00,244.09 L93.49,244.61 L93.99,245.14 L94.48,245.66 L94.98,246.20 L95.47,246.73 L95.96,247.28 L96.45,247.83 L96.94,248.39 L97.43,248.96 L97.92,249.54 L98.41,250.13 L98.90,250.74 L99.39,251.36 L99.88,251.99 L100.37,252.64 L100.86,253.30 L101.36,253.97 L101.85,254.64 L102.35,255.33 L102.84,256.03 L103.34,256.74 L103.83,257.45 L104.33,258.17 L104.83,258.90 L105.33,259.64 L105.82,260.38 L106.32,261.12 L106.82,261.87 L107.32,262.62 L107.82,263.37 L108.32,264.13 L108.82,264.89 L109.32,265.65 L109.82,266.41 L110.32,267.17 L110.82,267.92 L111.32,268.68 L111.82,269.43 L112.32,270.18 L112.82,270.93 L113.31,271.69 L113.81,272.46 L114.31,273.23 L114.81,274.01 L115.31,274.79 L115.81,275.57 L116.31,276.35 L116.81,277.14 L117.31,277.92 L117.81,278.71 L118.31,279.49 L118.81,280.27 L119.31,281.05 L119.81,281.82 L120.32,282.58 L120.82,283.35 L121.32,284.11 L121.82,284.87 L122.32,285.63 L122.82,286.39 L123.32,287.15 L123.82,287.91 L124.32,288.67 L124.82,289.43 L125.32,290.19 L125.82,290.94 L126.32,291.70 L126.82,292.46 L127.32,293.21 L127.82,293.97 L128.32,294.72 L128.82,295.47 L129.32,296.22 L129.82,296.97 L130.32,297.72 L130.82,298.47 L131.32,299.22 L131.82,299.97 L132.32,300.72 L132.82,301.46 L133.32,302.21 L133.83,302.95 L134.33,303.70 L134.83,304.44 L135.33,305.18 L135.83,305.92 L136.33,306.66 L136.83,307.40 L137.33,308.13 L137.83,308.87 L138.33,309.60 L138.83,310.34 L139.33,311.07 L139.83,311.80 L140.33,312.53 L140.83,313.26 L141.33,313.99 L141.84,314.72 L142.34,315.44 L142.84,316.16 L143.34,316.88 L143.84,317.60 L144.34,318.31 L144.84,319.03 L145.34,319.74 L145.84,320.45 L146.34,321.16 L146.84,321.87 L147.34,322.58 L147.84,323.28 L148.34,323.99 L148.84,324.70 L149.34,325.40 L149.84,326.11 L150.34,326.82 L150.84,327.52 L151.34,328.23 L151.84,328.94 L152.34,329.65 L152.84,330.36 L153.34,331.07 L153.84,331.79 L154.34,332.50 L154.36,332.52 L157.28,330.48 L157.26,330.45 L156.76,329.74 L156.26,329.03 L155.76,328.31 L155.26,327.60 L154.76,326.89 L154.26,326.18 L153.76,325.47 L153.26,324.76 L152.76,324.05 L152.26,323.34 L151.76,322.64 L151.26,321.93 L150.76,321.22 L150.26,320.52 L149.76,319.81 L149.26,319.10 L148.76,318.40 L148.26,317.69 L147.76,316.98 L147.26,316.27 L146.76,315.56 L146.26,314.84 L145.76,314.13 L145.26,313.41 L144.76,312.69 L144.27,311.97 L143.77,311.25 L143.27,310.52 L142.77,309.79 L142.27,309.06 L141.77,308.33 L141.27,307.60 L140.77,306.87 L140.27,306.13 L139.77,305.40 L139.27,304.66 L138.77,303.92 L138.27,303.19 L137.77,302.45 L137.27,301.71 L136.77,300.97 L136.28,300.22 L135.78,299.48 L135.28,298.74 L134.78,297.99 L134.28,297.25 L133.78,296.50 L133.28,295.75 L132.78,295.00 L132.28,294.25 L131.78,293.50 L131.28,292.75 L130.78,292.00 L130.28,291.25 L129.78,290.49 L129.28,289.74 L128.78,288.98 L128.28,288.23 L127.78,287.47 L127.28,286.72 L126.78,285.96 L126.28,285.20 L125.78,284.44 L125.28,283.68 L124.78,282.92 L124.28,282.16 L123.78,281.40 L123.28,280.64 L122.79,279.88 L122.29,279.11 L121.79,278.35 L121.29,277.57 L120.79,276.80 L120.29,276.02 L119.79,275.23 L119.29,274.45 L118.79,273.66 L118.29,272.88 L117.79,272.09 L117.29,271.31 L116.79,270.53 L116.29,269.76 L115.78,268.99 L115.28,268.22 L114.78,267.47 L114.28,266.72 L113.78,265.96 L113.28,265.21 L112.78,264.45 L112.28,263.69 L111.78,262.94 L111.28,262.18 L110.78,261.42 L110.28,260.66 L109.78,259.90 L109.28,259.15 L108.78,258.40 L108.27,257.65 L107.77,256.90 L107.27,256.16 L106.77,255.43 L106.26,254.70 L105.76,253.98 L105.25,253.26 L104.75,252.56 L104.24,251.86 L103.74,251.17 L103.23,250.49 L102.72,249.82 L102.21,249.16 L101.70,248.51 L101.19,247.87 L100.68,247.24 L100.17,246.63 L99.66,246.04 L99.15,245.45 L98.64,244.88 L98.13,244.31 L97.62,243.76 L97.12,243.21 L96.61,242.67 L96.11,242.14 L95.60,241.61 L95.10,241.08 L94.60,240.56 L94.10,240.03 L93.60,239.51 L93.11,238.99 L92.61,238.46 L92.12,237.93 L91.62,237.40 L91.12,236.86 L90.62,236.31 L90.11,235.77 L89.60,235.24 L89.09,234.70 L88.57,234.18 L88.06,233.67 L87.53,233.17 L87.02,232.70 L86.53,232.23 L86.02,231.77 L85.52,231.30 L85.00,230.83 L84.47,230.37 L83.93,229.92 L83.38,229.49 L82.81,229.09 L82.22,228.72 L81.66,228.41 L81.14,228.13 L80.63,227.85 L80.08,227.58 L79.50,227.32 L78.88,227.10 L78.22,226.94 L77.52,226.86 L76.90,226.85 L76.37,226.84 L75.86,226.82 L75.35,226.81 L74.83,226.80 L74.32,226.80 L73.77,226.79 L73.06,226.75 L72.22,226.86 L71.47,227.14 L70.81,227.52 L70.22,227.93 L69.68,228.35 L69.16,228.77 L68.60,229.23 L68.00,229.81 L67.42,230.47 L66.88,231.15 L66.36,231.85 L65.84,232.57 L65.31,233.37 L64.79,234.23 L64.28,235.11Z" fill="#ee82ee"/>
<path d="M67.34,243.04 L67.83,242.15 L68.32,241.32 L68.80,240.56 L69.28,239.82 L69.78,239.07 L70.25,238.40 L70.67,237.86 L71.03,237.49 L71.40,237.18 L71.87,236.82 L72.33,236.48 L72.77,236.17 L73.18,235.90 L73.56,235.67 L73.91,235.47 L74.22,235.32 L74.49,235.19 L74.83,235.11 L75.26,235.12 L75.73,235.15 L76.21,235.19 L76.68,235.23 L77.16,235.28 L77.61,235.34 L77.93,235.44 L78.18,235.60 L78.51,235.79 L78.91,236.04 L79.37,236.33 L79.86,236.64 L80.32,236.93 L80.75,237.24 L81.19,237.59 L81.64,237.97 L82.11,238.37 L82.58,238.80 L83.06,239.25 L83.55,239.72 L84.04,240.20 L84.53,240.68 L85.01,241.16 L85.49,241.65 L85.96,242.17 L86.45,242.72 L86.93,243.28 L87.43,243.86 L87.92,244.46 L88.42,245.06 L88.92,245.66 L89.43,246.26 L89.94,246.86 L90.45,247.44 L90.95,248.02 L91.46,248.58 L91.96,249.15 L92.46,249.71 L92.96,250.27 L93.46,250.83 L93.95,251.39 L94.45,251.95 L94.94,252.52 L95.44,253.09 L95.93,253.67 L96.42,254.25 L96.91,254.84 L97.40,255.45 L97.90,256.06 L98.39,256.69 L98.89,257.32 L99.38,257.96 L99.88,258.61 L100.37,259.26 L100.87,259.92 L101.36,260.59 L101.86,261.26 L102.36,261.94 L102.86,262.62 L103.35,263.31 L103.85,264.00 L104.35,264.69 L104.85,265.39 L105.35,266.09 L105.85,266.79 L106.34,267.49 L106.84,268.20 L107.34,268.91 L107.84,269.61 L108.34,270.32 L108.84,271.03 L109.34,271.73 L109.84,272.44 L110.34,273.16 L110.84,273.87 L111.33,274.60 L111.83,275.32 L112.33,276.05 L112.83,276.78 L113.33,277.51 L113.83,278.25 L114.33,278.98 L114.83,279.72 L115.32,280.47 L115.82,281.21 L116.32,281.95 L116.82,282.70 L117.32,283.44 L117.82,284.19 L118.32,284.94 L118.82,285.69 L119.32,286.43 L119.82,287.18 L120.32,287.93 L120.82,288.67 L121.33,289.42 L121.83,290.16 L122.33,290.90 L122.83,291.64 L123.33,292.38 L123.83,293.12 L124.33,293.86 L124.83,294.60 L125.33,295.34 L125.83,296.07 L126.33,296.81 L126.83,297.55 L127.33,298.29 L127.83,299.03 L128.33,299.77 L128.83,300.51 L129.33,301.25 L129.83,301.98 L130.33,302.72 L130.83,303.46 L131.33,304.20 L131.83,304.94 L132.33,305.68 L132.83,306.42 L133.33,307.16 L133.83,307.90 L134.33,308.64 L134.83,309.38 L135.33,310.11 L135.83,310.85 L136.33,311.59 L136.83,312.33 L137.33,313.07 L137.83,313.81 L138.33,314.55 L138.83,315.29 L139.33,316.03 L139.83,316.77 L140.33,317.51 L140.83,318.25 L141.33,318.99 L141.83,319.73 L142.33,320.47 L142.83,321.21 L143.33,321.95 L143.83,322.69 L144.33,323.43 L144.83,324.17 L145.33,324.91 L145.83,325.65 L146.33,326.39 L146.83,327.13 L147.33,327.87 L147.83,328.61 L148.33,329.35 L148.83,330.09 L149.33,330.83 L149.83,331.57 L150.33,332.31 L150.45,332.50 L153.40,330.50 L153.27,330.31 L152.77,329.58 L152.27,328.84 L151.77,328.10 L151.27,327.36 L150.77,326.62 L150.27,325.88 L149.77,325.14 L149.27,324.40 L148.77,323.66 L148.27,322.92 L147.77,322.18 L147.27,321.44 L146.77,320.70 L146.27,319.96 L145.77,319.22 L145.27,318.48 L144.77,317.74 L144.27,317.00 L143.77,316.26 L143.27,315.52 L142.77,314.78 L142.27,314.04 L141.77,313.30 L141.27,312.56 L140.77,311.82 L140.27,311.08 L139.77,310.34 L139.27,309.60 L138.77,308.86 L138.27,308.12 L137.77,307.38 L137.27,306.64 L136.77,305.90 L136.27,305.16 L135.77,304.43 L135.27,303.69 L134.77,302.95 L134.27,302.21 L133.77,301.47 L133.27,300.73 L132.77,299.99 L132.27,299.25 L131.77,298.51 L131.27,297.77 L130.77,297.04 L130.27,296.30 L129.77,295.56 L129.27,294.82 L128.77,294.08 L128.27,293.34 L127.77,292.60 L127.27,291.86 L126.77,291.13 L126.27,290.39 L125.77,289.65 L125.27,288.91 L124.77,288.17 L124.27,287.43 L123.78,286.69 L123.28,285.95 L122.78,285.20 L122.28,284.46 L121.78,283.71 L121.28,282.96 L120.78,282.21 L120.28,281.47 L119.78,280.72 L119.28,279.97 L118.78,279.23 L118.28,278.48 L117.77,277.74 L117.27,276.99 L116.77,276.25 L116.27,275.51 L115.77,274.77 L115.27,274.04 L114.77,273.31 L114.27,272.58 L113.76,271.85 L113.26,271.12 L112.76,270.40 L112.26,269.68 L111.76,268.97 L111.26,268.26 L110.76,267.56 L110.26,266.85 L109.76,266.14 L109.26,265.43 L108.75,264.73 L108.25,264.02 L107.75,263.31 L107.25,262.61 L106.75,261.91 L106.25,261.22 L105.74,260.52 L105.24,259.83 L104.74,259.14 L104.24,258.46 L103.73,257.78 L103.23,257.11 L102.72,256.44 L102.22,255.78 L101.71,255.13 L101.21,254.48 L100.70,253.83 L100.20,253.20 L99.69,252.57 L99.18,251.95 L98.67,251.35 L98.16,250.75 L97.66,250.16 L97.15,249.58 L96.65,249.01 L96.14,248.44 L95.64,247.88 L95.14,247.32 L94.64,246.76 L94.14,246.20 L93.65,245.64 L93.15,245.07 L92.66,244.51 L92.17,243.94 L91.68,243.35 L91.18,242.76 L90.68,242.16 L90.17,241.55 L89.67,240.95 L89.15,240.35 L88.64,239.77 L88.11,239.19 L87.59,238.64 L87.07,238.12 L86.56,237.63 L86.05,237.13 L85.54,236.64 L85.02,236.15 L84.49,235.68 L83.96,235.22 L83.41,234.78 L82.85,234.36 L82.28,233.97 L81.74,233.64 L81.23,233.32 L80.69,233.00 L80.09,232.69 L79.42,232.42 L78.67,232.26 L77.99,232.22 L77.44,232.18 L76.92,232.15 L76.39,232.12 L75.87,232.10 L75.34,232.09 L74.77,232.09 L74.11,232.06 L73.38,232.13 L72.69,232.30 L72.04,232.55 L71.42,232.85 L70.83,233.20 L70.27,233.57 L69.73,233.96 L69.20,234.36 L68.57,234.85 L67.93,235.54 L67.35,236.31 L66.82,237.09 L66.32,237.87 L65.80,238.66 L65.28,239.52 L64.77,240.43 L64.26,241.36Z" fill="#ffa500"/>
</g>
<g>
<line x1="66.6" y1="0" x2="66.6" y2="335" stroke="#000" stroke-width="1.1"/>
<line x1="366.7" y1="0" x2="366.7" y2="335" stroke="#000" stroke-width="1"/>
<rect x="60" y="329" width="315" height="8" fill="#000"/>
</g>
<g shape-rendering="crispEdges">
<line x1="310" y1="28.5" x2="324" y2="28.5" stroke="#a52a2a" stroke-width="3.0"/>
<line x1="325" y1="28.5" x2="335" y2="28.5" stroke="#a52a2a" stroke-width="3.0"/>
<line x1="336" y1="28.5" x2="346" y2="28.5" stroke="#a52a2a" stroke-width="3.0"/>
<line x1="310" y1="46.5" x2="347" y2="46.5" stroke="#ff0000" stroke-width="3.0"/>
<line x1="310" y1="63.5" x2="324" y2="63.5" stroke="#00ff00" stroke-width="3.0"/>
<line x1="325" y1="63.5" x2="335" y2="63.5" stroke="#00ff00" stroke-width="3.0"/>
<line x1="336" y1="63.5" x2="346" y2="63.5" stroke="#00ff00" stroke-width="3.0"/>
<line x1="310" y1="81.5" x2="347" y2="81.5" stroke="#0000ff" stroke-width="3.0"/>
<line x1="310" y1="98.5" x2="347" y2="98.5" stroke="#00ffff" stroke-width="3.0"/>
<line x1="310" y1="115.5" x2="347" y2="115.5" stroke="#ee82ee" stroke-width="3.0"/>
<line x1="310" y1="133.5" x2="347" y2="133.5" stroke="#ffa500" stroke-width="3.0"/>
</g>
</svg>
</body></html>
